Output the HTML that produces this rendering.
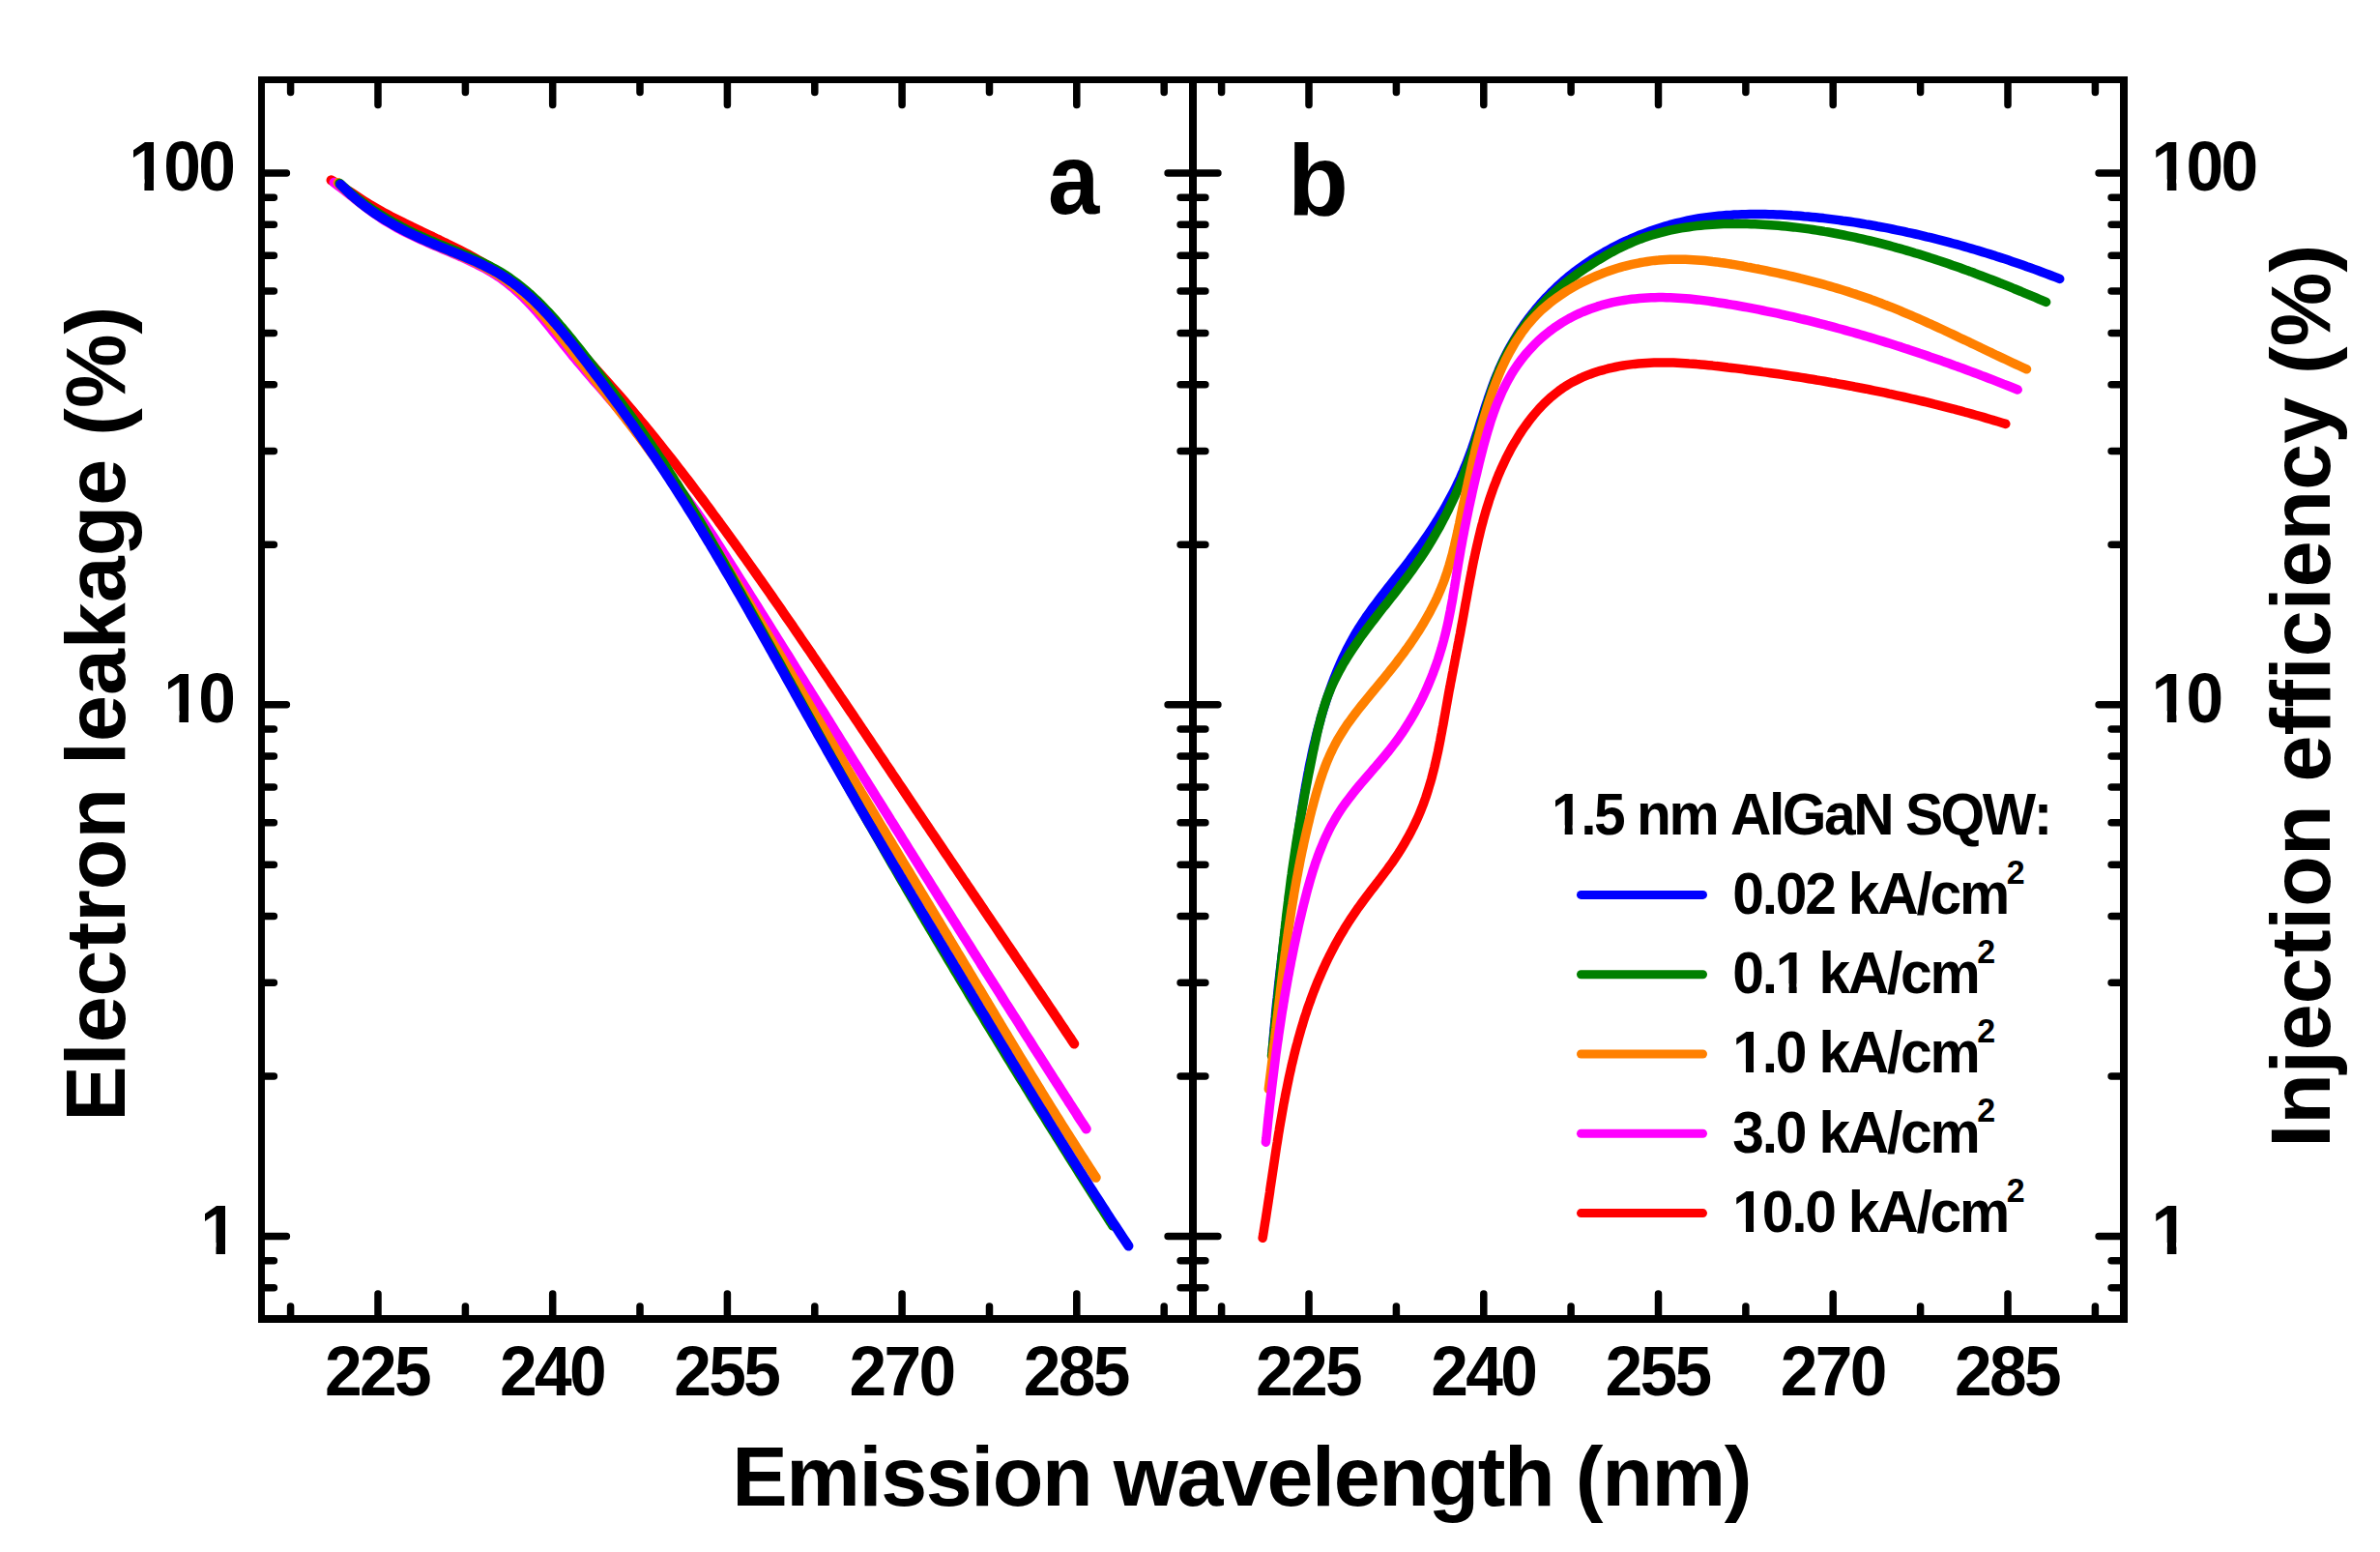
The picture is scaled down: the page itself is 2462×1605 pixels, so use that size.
<!DOCTYPE html>
<html lang="en"><head><meta charset="utf-8"><title>Electron leakage and injection efficiency vs emission wavelength</title>
<style>html,body{margin:0;padding:0;background:#fff}svg{display:block}text{font-family:"Liberation Sans",Arial,Helvetica,sans-serif;font-weight:bold;fill:#000;font-kerning:none;white-space:pre}</style></head><body>
<svg width="2462" height="1605" viewBox="0 0 2462 1605" role="img" aria-label="Electron leakage and injection efficiency versus emission wavelength">
<rect x="0" y="0" width="2462" height="1605" fill="#fff"/>
<g fill="none" stroke-width="10.1" stroke-linecap="round" stroke-linejoin="round">
<path stroke="#ff0000" d="M342.6,186.4 L346.0,188.4 L349.5,190.5 L352.9,192.6 L356.3,194.8 L359.6,196.9 L363.0,199.1 L366.4,201.3 L369.7,203.5 L373.1,205.7 L376.5,207.9 L379.9,210.0 L383.3,212.2 L386.7,214.2 L390.2,216.2 L393.7,218.2 L397.2,220.1 L400.8,222.0 L404.3,223.9 L407.9,225.7 L411.5,227.5 L415.1,229.3 L418.6,231.1 L422.2,232.8 L425.8,234.6 L429.4,236.3 L433.0,238.0 L436.6,239.8 L440.3,241.5 L443.9,243.2 L447.5,244.9 L451.1,246.7 L454.7,248.4 L458.3,250.2 L461.9,251.9 L465.5,253.7 L469.1,255.5 L472.7,257.3 L476.3,259.1 L479.9,261.0 L483.5,262.8 L487.0,264.7 L490.6,266.7 L494.1,268.6 L497.6,270.6 L501.1,272.6 L504.6,274.7 L508.1,276.8 L511.5,278.9 L514.9,281.0 L518.3,283.2 L521.6,285.5 L524.9,287.8 L528.2,290.1 L531.4,292.5 L534.6,294.9 L537.8,297.4 L540.9,299.9 L543.9,302.5 L546.9,305.1 L549.9,307.8 L552.8,310.5 L555.6,313.3 L558.5,316.1 L561.3,319.0 L564.0,321.9 L566.8,324.8 L569.5,327.7 L572.1,330.7 L574.8,333.7 L577.4,336.7 L580.1,339.8 L582.7,342.8 L585.3,345.9 L587.9,349.0 L590.5,352.0 L593.1,355.1 L595.7,358.2 L598.3,361.2 L601.0,364.3 L603.6,367.3 L606.3,370.3 L608.9,373.4 L611.6,376.4 L614.3,379.4 L616.9,382.3 L619.6,385.3 L622.3,388.3 L625.0,391.3 L627.7,394.3 L630.3,397.3 L633.0,400.3 L635.7,403.3 L638.3,406.3 L641.0,409.4 L643.6,412.4 L646.2,415.4 L648.8,418.5 L651.4,421.5 L654.0,424.6 L656.6,427.7 L659.2,430.7 L661.7,433.8 L664.3,436.9 L666.9,440.0 L669.4,443.1 L672.0,446.2 L674.5,449.3 L677.0,452.4 L679.5,455.6 L682.0,458.7 L684.5,461.8 L687.0,465.0 L689.5,468.1 L692.0,471.3 L694.5,474.4 L697.0,477.6 L699.4,480.8 L701.9,484.0 L704.3,487.1 L706.8,490.3 L709.2,493.5 L711.7,496.7 L714.1,499.9 L716.5,503.1 L718.9,506.3 L721.4,509.5 L723.8,512.7 L726.2,515.9 L728.6,519.1 L731.0,522.4 L733.4,525.6 L735.7,528.8 L738.1,532.1 L740.5,535.3 L742.9,538.5 L745.2,541.8 L747.6,545.0 L750.0,548.3 L752.3,551.5 L754.7,554.8 L757.0,558.0 L759.4,561.3 L761.7,564.5 L764.1,567.8 L766.4,571.1 L768.7,574.3 L771.1,577.6 L773.4,580.9 L775.7,584.1 L778.0,587.4 L780.4,590.7 L782.7,594.0 L785.0,597.3 L787.3,600.5 L789.6,603.8 L791.9,607.1 L794.2,610.4 L796.5,613.7 L798.8,617.0 L801.1,620.3 L803.4,623.6 L805.7,626.9 L808.0,630.2 L810.2,633.5 L812.5,636.8 L814.8,640.1 L817.1,643.4 L819.4,646.7 L821.6,650.0 L823.9,653.3 L826.2,656.7 L828.4,660.0 L830.7,663.3 L833.0,666.6 L835.2,669.9 L837.5,673.2 L839.8,676.5 L842.0,679.9 L844.3,683.2 L846.5,686.5 L848.8,689.8 L851.0,693.2 L853.3,696.5 L855.5,699.8 L857.8,703.1 L860.0,706.5 L862.3,709.8 L864.5,713.1 L866.8,716.4 L869.0,719.8 L871.3,723.1 L873.5,726.4 L875.8,729.8 L878.0,733.1 L880.2,736.4 L882.5,739.7 L884.7,743.1 L887.0,746.4 L889.2,749.7 L891.4,753.1 L893.7,756.4 L895.9,759.7 L898.2,763.1 L900.4,766.4 L902.6,769.7 L904.9,773.1 L907.1,776.4 L909.3,779.8 L911.6,783.1 L913.8,786.4 L916.0,789.8 L918.3,793.1 L920.5,796.4 L922.7,799.8 L925.0,803.1 L927.2,806.4 L929.4,809.8 L931.7,813.1 L933.9,816.4 L936.2,819.8 L938.4,823.1 L940.6,826.5 L942.9,829.8 L945.1,833.1 L947.3,836.5 L949.6,839.8 L951.8,843.1 L954.1,846.5 L956.3,849.8 L958.5,853.1 L960.8,856.4 L963.0,859.8 L965.3,863.1 L967.5,866.4 L969.8,869.8 L972.0,873.1 L974.2,876.4 L976.5,879.8 L978.7,883.1 L981.0,886.4 L983.2,889.7 L985.5,893.1 L987.7,896.4 L990.0,899.7 L992.2,903.1 L994.5,906.4 L996.7,909.7 L999.0,913.0 L1001.2,916.4 L1003.5,919.7 L1005.7,923.0 L1008.0,926.3 L1010.2,929.7 L1012.5,933.0 L1014.7,936.3 L1017.0,939.7 L1019.2,943.0 L1021.5,946.3 L1023.7,949.6 L1026.0,953.0 L1028.2,956.3 L1030.5,959.6 L1032.7,962.9 L1035.0,966.3 L1037.2,969.6 L1039.5,972.9 L1041.7,976.2 L1044.0,979.6 L1046.2,982.9 L1048.5,986.2 L1050.7,989.6 L1053.0,992.9 L1055.2,996.2 L1057.5,999.5 L1059.7,1002.9 L1062.0,1006.2 L1064.2,1009.5 L1066.4,1012.8 L1068.7,1016.2 L1070.9,1019.5 L1073.2,1022.8 L1075.4,1026.2 L1077.7,1029.5 L1079.9,1032.8 L1082.2,1036.2 L1084.4,1039.5 L1086.6,1042.8 L1088.9,1046.2 L1091.1,1049.5 L1093.4,1052.8 L1095.6,1056.2 L1097.8,1059.5 L1100.1,1062.8 L1102.3,1066.2 L1104.5,1069.5 L1106.8,1072.8 L1109.0,1076.2 L1111.2,1079.5"/>
<path stroke="#ff00ff" d="M345.6,188.7 L348.8,191.1 L352.0,193.6 L355.2,196.0 L358.4,198.5 L361.6,201.0 L364.8,203.5 L367.9,206.0 L371.1,208.5 L374.3,211.0 L377.5,213.5 L380.7,215.9 L384.0,218.3 L387.2,220.6 L390.5,222.9 L393.8,225.2 L397.2,227.4 L400.6,229.5 L404.0,231.5 L407.4,233.5 L410.9,235.5 L414.4,237.4 L417.9,239.2 L421.5,241.0 L425.1,242.8 L428.7,244.5 L432.3,246.2 L436.0,247.9 L439.6,249.5 L443.3,251.2 L447.0,252.8 L450.7,254.4 L454.5,255.9 L458.2,257.5 L462.0,259.1 L465.7,260.7 L469.4,262.3 L473.2,263.9 L476.9,265.5 L480.6,267.2 L484.3,268.9 L487.9,270.6 L491.6,272.3 L495.2,274.2 L498.7,276.0 L502.3,277.9 L505.7,279.9 L509.2,281.9 L512.5,284.0 L515.9,286.2 L519.1,288.4 L522.4,290.8 L525.5,293.2 L528.6,295.7 L531.6,298.2 L534.6,300.9 L537.5,303.6 L540.4,306.3 L543.2,309.1 L546.0,312.0 L548.8,314.9 L551.5,317.9 L554.2,320.9 L556.9,323.9 L559.5,327.0 L562.1,330.1 L564.7,333.2 L567.3,336.3 L569.8,339.5 L572.4,342.7 L574.9,345.8 L577.5,349.0 L580.0,352.2 L582.5,355.4 L585.1,358.6 L587.6,361.7 L590.2,364.9 L592.7,368.0 L595.3,371.1 L597.9,374.2 L600.5,377.2 L603.1,380.3 L605.7,383.4 L608.3,386.4 L610.9,389.4 L613.5,392.5 L616.2,395.5 L618.8,398.5 L621.4,401.5 L624.0,404.5 L626.6,407.6 L629.2,410.6 L631.8,413.6 L634.3,416.7 L636.9,419.8 L639.5,422.8 L642.0,425.9 L644.5,429.0 L647.0,432.2 L649.5,435.3 L652.0,438.5 L654.4,441.7 L656.9,444.9 L659.3,448.1 L661.7,451.3 L664.2,454.6 L666.6,457.8 L669.0,461.0 L671.4,464.3 L673.8,467.5 L676.2,470.7 L678.7,474.0 L681.1,477.2 L683.5,480.4 L686.0,483.6 L688.4,486.8 L690.9,489.9 L693.3,493.1 L695.8,496.3 L698.2,499.5 L700.7,502.7 L703.1,505.9 L705.5,509.1 L707.9,512.3 L710.3,515.5 L712.7,518.8 L715.1,522.0 L717.4,525.3 L719.8,528.5 L722.1,531.8 L724.4,535.1 L726.6,538.4 L728.9,541.7 L731.1,545.1 L733.4,548.4 L735.6,551.8 L737.8,555.1 L740.0,558.5 L742.1,561.9 L744.3,565.3 L746.5,568.7 L748.6,572.1 L750.8,575.5 L752.9,578.9 L755.1,582.3 L757.2,585.7 L759.4,589.1 L761.5,592.5 L763.7,595.9 L765.8,599.3 L768.0,602.7 L770.1,606.1 L772.3,609.5 L774.4,612.9 L776.5,616.3 L778.7,619.7 L780.8,623.1 L783.0,626.5 L785.1,629.9 L787.2,633.3 L789.4,636.7 L791.5,640.1 L793.6,643.5 L795.8,646.9 L797.9,650.3 L800.0,653.8 L802.2,657.2 L804.3,660.6 L806.4,664.0 L808.6,667.4 L810.7,670.8 L812.8,674.2 L815.0,677.6 L817.1,681.0 L819.2,684.4 L821.4,687.9 L823.5,691.3 L825.6,694.7 L827.7,698.1 L829.9,701.5 L832.0,704.9 L834.1,708.3 L836.3,711.7 L838.4,715.1 L840.5,718.6 L842.7,722.0 L844.8,725.4 L846.9,728.8 L849.0,732.2 L851.2,735.6 L853.3,739.0 L855.4,742.4 L857.6,745.8 L859.7,749.3 L861.8,752.7 L863.9,756.1 L866.1,759.5 L868.2,762.9 L870.3,766.3 L872.5,769.7 L874.6,773.1 L876.7,776.5 L878.8,780.0 L881.0,783.4 L883.1,786.8 L885.2,790.2 L887.4,793.6 L889.5,797.0 L891.6,800.4 L893.7,803.8 L895.9,807.2 L898.0,810.6 L900.1,814.1 L902.3,817.5 L904.4,820.9 L906.5,824.3 L908.7,827.7 L910.8,831.1 L912.9,834.5 L915.0,837.9 L917.2,841.3 L919.3,844.7 L921.4,848.2 L923.6,851.6 L925.7,855.0 L927.8,858.4 L930.0,861.8 L932.1,865.2 L934.2,868.6 L936.4,872.0 L938.5,875.4 L940.6,878.8 L942.8,882.2 L944.9,885.6 L947.0,889.1 L949.2,892.5 L951.3,895.9 L953.4,899.3 L955.6,902.7 L957.7,906.1 L959.9,909.5 L962.0,912.9 L964.1,916.3 L966.3,919.7 L968.4,923.1 L970.5,926.5 L972.7,929.9 L974.8,933.3 L977.0,936.7 L979.1,940.1 L981.2,943.5 L983.4,947.0 L985.5,950.4 L987.7,953.8 L989.8,957.2 L991.9,960.6 L994.1,964.0 L996.2,967.4 L998.4,970.8 L1000.5,974.2 L1002.7,977.6 L1004.8,981.0 L1006.9,984.4 L1009.1,987.8 L1011.2,991.2 L1013.4,994.6 L1015.5,998.0 L1017.7,1001.4 L1019.8,1004.8 L1022.0,1008.2 L1024.1,1011.6 L1026.3,1015.0 L1028.4,1018.4 L1030.6,1021.8 L1032.7,1025.2 L1034.9,1028.6 L1037.0,1032.0 L1039.2,1035.4 L1041.3,1038.8 L1043.5,1042.1 L1045.6,1045.5 L1047.8,1048.9 L1050.0,1052.3 L1052.1,1055.7 L1054.3,1059.1 L1056.4,1062.5 L1058.6,1065.9 L1060.7,1069.3 L1062.9,1072.7 L1065.1,1076.1 L1067.2,1079.5 L1069.4,1082.9 L1071.5,1086.3 L1073.7,1089.6 L1075.9,1093.0 L1078.0,1096.4 L1080.2,1099.8 L1082.4,1103.2 L1084.5,1106.6 L1086.7,1110.0 L1088.9,1113.4 L1091.0,1116.8 L1093.2,1120.1 L1095.4,1123.5 L1097.5,1126.9 L1099.7,1130.3 L1101.9,1133.7 L1104.1,1137.1 L1106.2,1140.5 L1108.4,1143.8 L1110.6,1147.2 L1112.8,1150.6 L1114.9,1154.0 L1117.1,1157.4 L1119.3,1160.7 L1121.5,1164.1 L1123.7,1167.5"/>
<path stroke="#ff8000" d="M349.6,189.0 L352.5,191.9 L355.5,194.7 L358.5,197.5 L361.6,200.2 L364.7,202.9 L367.8,205.5 L370.9,208.0 L374.1,210.5 L377.3,212.9 L380.5,215.2 L383.8,217.6 L387.1,219.8 L390.4,222.0 L393.8,224.2 L397.2,226.3 L400.6,228.3 L404.0,230.4 L407.5,232.3 L411.0,234.3 L414.5,236.2 L418.0,238.1 L421.6,239.9 L425.1,241.7 L428.7,243.4 L432.4,245.2 L436.0,246.9 L439.7,248.6 L443.4,250.2 L447.1,251.9 L450.8,253.5 L454.5,255.1 L458.3,256.7 L462.0,258.3 L465.8,259.8 L469.5,261.4 L473.2,263.0 L477.0,264.6 L480.7,266.3 L484.4,267.9 L488.1,269.6 L491.7,271.4 L495.3,273.1 L498.9,274.9 L502.5,276.8 L506.0,278.7 L509.5,280.7 L512.9,282.7 L516.3,284.8 L519.6,287.0 L522.8,289.2 L526.0,291.6 L529.2,294.0 L532.3,296.5 L535.3,299.0 L538.3,301.6 L541.2,304.3 L544.1,307.0 L547.0,309.8 L549.8,312.6 L552.6,315.5 L555.3,318.4 L558.0,321.3 L560.7,324.3 L563.4,327.4 L566.0,330.4 L568.6,333.5 L571.2,336.7 L573.8,339.8 L576.3,342.9 L578.9,346.1 L581.4,349.3 L583.9,352.5 L586.4,355.7 L588.9,358.9 L591.4,362.1 L593.9,365.3 L596.4,368.5 L599.0,371.7 L601.5,374.9 L604.0,378.0 L606.5,381.2 L609.0,384.4 L611.5,387.5 L614.0,390.7 L616.5,393.9 L619.0,397.0 L621.5,400.2 L624.0,403.3 L626.5,406.5 L629.0,409.6 L631.5,412.8 L634.0,415.9 L636.5,419.1 L639.0,422.3 L641.4,425.4 L643.9,428.6 L646.4,431.7 L648.8,434.9 L651.3,438.1 L653.7,441.3 L656.2,444.4 L658.6,447.6 L661.0,450.8 L663.4,454.0 L665.8,457.2 L668.2,460.4 L670.6,463.7 L673.0,466.9 L675.3,470.1 L677.7,473.4 L680.0,476.6 L682.4,479.9 L684.7,483.2 L687.0,486.4 L689.3,489.7 L691.6,493.0 L693.9,496.3 L696.2,499.6 L698.4,502.9 L700.7,506.3 L702.9,509.6 L705.2,512.9 L707.4,516.3 L709.6,519.6 L711.9,523.0 L714.1,526.3 L716.3,529.7 L718.5,533.1 L720.7,536.5 L722.8,539.8 L725.0,543.2 L727.2,546.6 L729.4,550.0 L731.5,553.4 L733.7,556.8 L735.8,560.2 L737.9,563.7 L740.1,567.1 L742.2,570.5 L744.3,573.9 L746.5,577.4 L748.6,580.8 L750.7,584.2 L752.8,587.7 L754.9,591.1 L757.0,594.5 L759.1,598.0 L761.2,601.4 L763.3,604.9 L765.4,608.3 L767.4,611.8 L769.5,615.2 L771.6,618.7 L773.7,622.1 L775.8,625.6 L777.8,629.0 L779.9,632.5 L782.0,635.9 L784.0,639.4 L786.1,642.8 L788.2,646.3 L790.2,649.8 L792.3,653.2 L794.4,656.7 L796.4,660.1 L798.5,663.6 L800.5,667.0 L802.6,670.5 L804.6,674.0 L806.7,677.4 L808.8,680.9 L810.8,684.3 L812.9,687.8 L814.9,691.3 L817.0,694.7 L819.0,698.2 L821.0,701.7 L823.1,705.1 L825.1,708.6 L827.2,712.0 L829.2,715.5 L831.3,719.0 L833.3,722.4 L835.4,725.9 L837.4,729.3 L839.5,732.8 L841.5,736.3 L843.5,739.7 L845.6,743.2 L847.6,746.6 L849.7,750.1 L851.7,753.6 L853.8,757.0 L855.8,760.5 L857.9,764.0 L859.9,767.4 L862.0,770.9 L864.0,774.3 L866.1,777.8 L868.1,781.2 L870.2,784.7 L872.2,788.2 L874.3,791.6 L876.3,795.1 L878.4,798.5 L880.4,802.0 L882.5,805.4 L884.6,808.9 L886.6,812.4 L888.7,815.8 L890.7,819.3 L892.8,822.7 L894.9,826.2 L896.9,829.6 L899.0,833.1 L901.1,836.5 L903.1,840.0 L905.2,843.4 L907.3,846.9 L909.3,850.3 L911.4,853.8 L913.5,857.2 L915.6,860.7 L917.6,864.1 L919.7,867.6 L921.8,871.0 L923.9,874.5 L925.9,877.9 L928.0,881.4 L930.1,884.8 L932.2,888.3 L934.2,891.7 L936.3,895.1 L938.4,898.6 L940.5,902.0 L942.6,905.5 L944.6,908.9 L946.7,912.4 L948.8,915.8 L950.9,919.3 L952.9,922.7 L955.0,926.2 L957.1,929.6 L959.2,933.1 L961.3,936.5 L963.3,940.0 L965.4,943.4 L967.5,946.9 L969.6,950.3 L971.7,953.7 L973.7,957.2 L975.8,960.6 L977.9,964.1 L980.0,967.5 L982.0,971.0 L984.1,974.4 L986.2,977.9 L988.3,981.3 L990.3,984.8 L992.4,988.2 L994.5,991.7 L996.5,995.1 L998.6,998.6 L1000.7,1002.0 L1002.8,1005.5 L1004.8,1008.9 L1006.9,1012.4 L1009.0,1015.8 L1011.0,1019.3 L1013.1,1022.7 L1015.2,1026.2 L1017.2,1029.6 L1019.3,1033.1 L1021.4,1036.5 L1023.4,1040.0 L1025.5,1043.4 L1027.6,1046.9 L1029.6,1050.3 L1031.7,1053.8 L1033.8,1057.2 L1035.8,1060.7 L1037.9,1064.1 L1040.0,1067.6 L1042.1,1071.0 L1044.1,1074.5 L1046.2,1077.9 L1048.3,1081.4 L1050.4,1084.8 L1052.5,1088.3 L1054.5,1091.7 L1056.6,1095.1 L1058.7,1098.6 L1060.8,1102.0 L1062.9,1105.4 L1065.0,1108.9 L1067.1,1112.3 L1069.2,1115.7 L1071.3,1119.2 L1073.4,1122.6 L1075.5,1126.0 L1077.6,1129.5 L1079.7,1132.9 L1081.8,1136.3 L1083.9,1139.7 L1086.0,1143.1 L1088.2,1146.6 L1090.3,1150.0 L1092.4,1153.4 L1094.6,1156.8 L1096.7,1160.2 L1098.8,1163.6 L1101.0,1167.0 L1103.1,1170.4 L1105.3,1173.8 L1107.4,1177.2 L1109.6,1180.6 L1111.8,1184.0 L1113.9,1187.4 L1116.1,1190.8 L1118.3,1194.2 L1120.5,1197.5 L1122.6,1200.9 L1124.8,1204.3 L1127.0,1207.7 L1129.2,1211.0 L1131.4,1214.4 L1133.7,1217.8"/>
<path stroke="#008000" d="M351.3,189.7 L354.3,192.5 L357.4,195.3 L360.4,197.9 L363.5,200.6 L366.7,203.1 L369.8,205.6 L373.0,208.1 L376.2,210.5 L379.5,212.8 L382.7,215.1 L386.0,217.4 L389.4,219.6 L392.7,221.7 L396.1,223.8 L399.5,225.9 L403.0,227.9 L406.4,229.9 L409.9,231.8 L413.4,233.7 L416.9,235.6 L420.5,237.4 L424.1,239.2 L427.7,241.0 L431.3,242.7 L434.9,244.4 L438.6,246.0 L442.3,247.7 L446.0,249.3 L449.7,250.8 L453.4,252.4 L457.2,253.9 L460.9,255.5 L464.7,257.0 L468.5,258.5 L472.2,260.0 L476.0,261.6 L479.7,263.1 L483.5,264.7 L487.2,266.3 L490.9,267.9 L494.5,269.5 L498.2,271.2 L501.8,273.0 L505.4,274.7 L508.9,276.6 L512.4,278.5 L515.8,280.4 L519.2,282.4 L522.6,284.5 L525.9,286.7 L529.1,289.0 L532.3,291.3 L535.5,293.6 L538.6,296.1 L541.7,298.6 L544.7,301.1 L547.7,303.7 L550.6,306.4 L553.5,309.1 L556.4,311.8 L559.2,314.6 L562.0,317.5 L564.8,320.4 L567.5,323.3 L570.2,326.2 L572.9,329.2 L575.6,332.2 L578.2,335.3 L580.9,338.3 L583.5,341.4 L586.1,344.5 L588.6,347.6 L591.2,350.8 L593.7,353.9 L596.3,357.1 L598.8,360.2 L601.3,363.4 L603.8,366.6 L606.3,369.8 L608.8,372.9 L611.3,376.1 L613.8,379.3 L616.3,382.5 L618.8,385.7 L621.2,388.8 L623.7,392.0 L626.1,395.2 L628.6,398.4 L631.0,401.6 L633.5,404.8 L635.9,408.0 L638.3,411.2 L640.7,414.4 L643.1,417.6 L645.5,420.9 L647.9,424.1 L650.3,427.3 L652.6,430.5 L655.0,433.8 L657.3,437.0 L659.7,440.3 L662.0,443.5 L664.3,446.8 L666.6,450.1 L668.9,453.4 L671.2,456.6 L673.5,459.9 L675.7,463.2 L678.0,466.5 L680.2,469.9 L682.4,473.2 L684.7,476.5 L686.9,479.8 L689.1,483.2 L691.2,486.5 L693.4,489.9 L695.6,493.3 L697.7,496.7 L699.9,500.0 L702.0,503.4 L704.1,506.8 L706.3,510.2 L708.4,513.6 L710.5,517.0 L712.6,520.5 L714.6,523.9 L716.7,527.3 L718.8,530.8 L720.9,534.2 L722.9,537.6 L725.0,541.1 L727.0,544.5 L729.0,548.0 L731.1,551.5 L733.1,554.9 L735.1,558.4 L737.1,561.9 L739.1,565.4 L741.1,568.8 L743.1,572.3 L745.1,575.8 L747.1,579.3 L749.1,582.8 L751.0,586.3 L753.0,589.8 L755.0,593.3 L757.0,596.8 L758.9,600.3 L760.9,603.8 L762.8,607.3 L764.8,610.8 L766.8,614.3 L768.7,617.8 L770.7,621.3 L772.6,624.8 L774.6,628.3 L776.5,631.8 L778.5,635.4 L780.4,638.9 L782.4,642.4 L784.3,645.9 L786.3,649.4 L788.2,652.9 L790.1,656.4 L792.1,659.9 L794.0,663.4 L796.0,667.0 L797.9,670.5 L799.8,674.0 L801.8,677.5 L803.7,681.0 L805.7,684.5 L807.6,688.0 L809.5,691.5 L811.5,695.1 L813.4,698.6 L815.3,702.1 L817.3,705.6 L819.2,709.1 L821.2,712.6 L823.1,716.1 L825.0,719.6 L827.0,723.2 L828.9,726.7 L830.8,730.2 L832.8,733.7 L834.7,737.2 L836.7,740.7 L838.6,744.2 L840.6,747.7 L842.5,751.2 L844.4,754.7 L846.4,758.2 L848.3,761.8 L850.3,765.3 L852.2,768.8 L854.2,772.3 L856.1,775.8 L858.1,779.3 L860.0,782.8 L862.0,786.3 L864.0,789.8 L865.9,793.3 L867.9,796.8 L869.8,800.3 L871.8,803.8 L873.8,807.3 L875.7,810.8 L877.7,814.3 L879.7,817.8 L881.7,821.2 L883.6,824.7 L885.6,828.2 L887.6,831.7 L889.6,835.2 L891.5,838.7 L893.5,842.2 L895.5,845.7 L897.5,849.2 L899.5,852.6 L901.5,856.1 L903.5,859.6 L905.5,863.1 L907.5,866.6 L909.5,870.0 L911.5,873.5 L913.5,877.0 L915.5,880.5 L917.5,884.0 L919.5,887.4 L921.5,890.9 L923.5,894.4 L925.5,897.8 L927.5,901.3 L929.5,904.8 L931.5,908.3 L933.5,911.7 L935.6,915.2 L937.6,918.7 L939.6,922.1 L941.6,925.6 L943.7,929.1 L945.7,932.5 L947.7,936.0 L949.7,939.4 L951.8,942.9 L953.8,946.4 L955.8,949.8 L957.9,953.3 L959.9,956.7 L961.9,960.2 L964.0,963.6 L966.0,967.1 L968.1,970.6 L970.1,974.0 L972.2,977.5 L974.2,980.9 L976.3,984.4 L978.3,987.8 L980.4,991.3 L982.4,994.7 L984.5,998.1 L986.5,1001.6 L988.6,1005.0 L990.7,1008.5 L992.7,1011.9 L994.8,1015.4 L996.8,1018.8 L998.9,1022.2 L1001.0,1025.7 L1003.0,1029.1 L1005.1,1032.6 L1007.2,1036.0 L1009.3,1039.4 L1011.3,1042.9 L1013.4,1046.3 L1015.5,1049.7 L1017.6,1053.2 L1019.6,1056.6 L1021.7,1060.0 L1023.8,1063.5 L1025.9,1066.9 L1028.0,1070.3 L1030.1,1073.7 L1032.2,1077.2 L1034.3,1080.6 L1036.3,1084.0 L1038.4,1087.4 L1040.5,1090.9 L1042.6,1094.3 L1044.7,1097.7 L1046.8,1101.1 L1048.9,1104.5 L1051.0,1108.0 L1053.1,1111.4 L1055.2,1114.8 L1057.3,1118.2 L1059.5,1121.6 L1061.6,1125.0 L1063.7,1128.4 L1065.8,1131.9 L1067.9,1135.3 L1070.0,1138.7 L1072.1,1142.1 L1074.2,1145.5 L1076.4,1148.9 L1078.5,1152.3 L1080.6,1155.7 L1082.7,1159.1 L1084.8,1162.5 L1087.0,1165.9 L1089.1,1169.3 L1091.2,1172.7 L1093.3,1176.1 L1095.5,1179.5 L1097.6,1182.9 L1099.7,1186.3 L1101.9,1189.7 L1104.0,1193.1 L1106.1,1196.5 L1108.3,1199.9 L1110.4,1203.3 L1112.6,1206.7 L1114.7,1210.1 L1116.8,1213.5 L1119.0,1216.9 L1121.1,1220.3 L1123.3,1223.7 L1125.4,1227.0 L1127.6,1230.4 L1129.7,1233.8 L1131.9,1237.2 L1134.0,1240.6 L1136.2,1244.0 L1138.3,1247.4 L1140.5,1250.7 L1142.6,1254.1 L1144.8,1257.5 L1147.0,1260.9 L1149.1,1264.3 L1151.3,1267.6"/>
<path stroke="#0000ff" d="M352.2,190.7 L355.1,193.7 L358.1,196.6 L361.0,199.4 L364.0,202.2 L367.1,204.8 L370.2,207.5 L373.3,210.0 L376.5,212.5 L379.7,214.9 L382.9,217.2 L386.2,219.5 L389.5,221.8 L392.9,224.0 L396.2,226.1 L399.6,228.2 L403.1,230.2 L406.5,232.2 L410.0,234.1 L413.5,236.0 L417.1,237.9 L420.6,239.7 L424.2,241.4 L427.9,243.2 L431.5,244.9 L435.2,246.6 L438.8,248.2 L442.5,249.8 L446.3,251.4 L450.0,253.0 L453.8,254.6 L457.5,256.1 L461.3,257.6 L465.1,259.2 L468.9,260.7 L472.6,262.3 L476.4,263.8 L480.1,265.4 L483.9,267.0 L487.6,268.6 L491.3,270.2 L495.0,271.9 L498.6,273.6 L502.2,275.4 L505.8,277.2 L509.3,279.1 L512.8,281.0 L516.2,283.0 L519.6,285.1 L522.9,287.3 L526.2,289.5 L529.5,291.8 L532.6,294.1 L535.8,296.5 L538.8,299.0 L541.9,301.5 L544.9,304.1 L547.8,306.8 L550.8,309.5 L553.6,312.3 L556.5,315.1 L559.3,317.9 L562.0,320.8 L564.8,323.7 L567.5,326.7 L570.2,329.7 L572.8,332.7 L575.5,335.7 L578.1,338.8 L580.7,341.9 L583.2,345.1 L585.8,348.2 L588.3,351.4 L590.9,354.5 L593.4,357.7 L595.9,360.9 L598.4,364.1 L600.9,367.3 L603.3,370.5 L605.8,373.7 L608.3,376.9 L610.7,380.1 L613.2,383.4 L615.6,386.6 L618.1,389.8 L620.5,393.0 L622.9,396.3 L625.3,399.5 L627.7,402.7 L630.1,406.0 L632.5,409.2 L634.9,412.4 L637.3,415.7 L639.7,418.9 L642.0,422.2 L644.4,425.5 L646.7,428.7 L649.1,432.0 L651.4,435.3 L653.8,438.5 L656.1,441.8 L658.4,445.1 L660.7,448.4 L663.0,451.7 L665.3,455.0 L667.5,458.3 L669.8,461.6 L672.1,464.9 L674.3,468.3 L676.6,471.6 L678.8,474.9 L681.1,478.3 L683.3,481.6 L685.5,484.9 L687.7,488.3 L689.9,491.7 L692.1,495.0 L694.3,498.4 L696.5,501.8 L698.6,505.1 L700.8,508.5 L702.9,511.9 L705.1,515.3 L707.2,518.7 L709.4,522.1 L711.5,525.5 L713.6,528.9 L715.8,532.3 L717.9,535.7 L720.0,539.2 L722.1,542.6 L724.2,546.0 L726.3,549.4 L728.3,552.9 L730.4,556.3 L732.5,559.8 L734.6,563.2 L736.6,566.7 L738.7,570.1 L740.7,573.6 L742.8,577.0 L744.8,580.5 L746.9,583.9 L748.9,587.4 L750.9,590.9 L753.0,594.4 L755.0,597.8 L757.0,601.3 L759.0,604.8 L761.0,608.3 L763.1,611.8 L765.1,615.2 L767.1,618.7 L769.1,622.2 L771.1,625.7 L773.1,629.2 L775.0,632.7 L777.0,636.2 L779.0,639.7 L781.0,643.2 L783.0,646.7 L785.0,650.2 L786.9,653.7 L788.9,657.2 L790.9,660.7 L792.9,664.2 L794.8,667.7 L796.8,671.3 L798.8,674.8 L800.7,678.3 L802.7,681.8 L804.7,685.3 L806.6,688.8 L808.6,692.3 L810.6,695.9 L812.5,699.4 L814.5,702.9 L816.5,706.4 L818.4,709.9 L820.4,713.4 L822.3,717.0 L824.3,720.5 L826.3,724.0 L828.2,727.5 L830.2,731.0 L832.2,734.5 L834.1,738.0 L836.1,741.6 L838.1,745.1 L840.0,748.6 L842.0,752.1 L844.0,755.6 L845.9,759.1 L847.9,762.6 L849.9,766.1 L851.9,769.6 L853.9,773.1 L855.8,776.6 L857.8,780.1 L859.8,783.6 L861.8,787.1 L863.8,790.6 L865.8,794.1 L867.8,797.6 L869.8,801.1 L871.8,804.6 L873.8,808.1 L875.8,811.6 L877.8,815.0 L879.8,818.5 L881.8,822.0 L883.9,825.5 L885.9,829.0 L887.9,832.4 L889.9,835.9 L892.0,839.4 L894.0,842.8 L896.0,846.3 L898.1,849.8 L900.1,853.2 L902.2,856.7 L904.2,860.2 L906.2,863.6 L908.3,867.1 L910.3,870.6 L912.4,874.0 L914.4,877.5 L916.5,880.9 L918.6,884.4 L920.6,887.8 L922.7,891.3 L924.7,894.7 L926.8,898.2 L928.9,901.6 L930.9,905.1 L933.0,908.5 L935.1,912.0 L937.1,915.4 L939.2,918.9 L941.3,922.3 L943.3,925.8 L945.4,929.2 L947.5,932.6 L949.6,936.1 L951.6,939.5 L953.7,943.0 L955.8,946.4 L957.9,949.9 L959.9,953.3 L962.0,956.7 L964.1,960.2 L966.2,963.6 L968.2,967.1 L970.3,970.5 L972.4,974.0 L974.5,977.4 L976.6,980.8 L978.6,984.3 L980.7,987.7 L982.8,991.2 L984.9,994.6 L986.9,998.1 L989.0,1001.5 L991.1,1004.9 L993.2,1008.4 L995.3,1011.8 L997.3,1015.3 L999.4,1018.7 L1001.5,1022.2 L1003.6,1025.6 L1005.6,1029.1 L1007.7,1032.5 L1009.8,1036.0 L1011.9,1039.4 L1013.9,1042.9 L1016.0,1046.3 L1018.1,1049.7 L1020.2,1053.2 L1022.2,1056.6 L1024.3,1060.1 L1026.4,1063.5 L1028.5,1067.0 L1030.5,1070.4 L1032.6,1073.9 L1034.7,1077.3 L1036.8,1080.8 L1038.9,1084.2 L1041.0,1087.6 L1043.0,1091.1 L1045.1,1094.5 L1047.2,1098.0 L1049.3,1101.4 L1051.4,1104.9 L1053.5,1108.3 L1055.6,1111.7 L1057.7,1115.2 L1059.8,1118.6 L1061.8,1122.0 L1063.9,1125.5 L1066.0,1128.9 L1068.1,1132.3 L1070.2,1135.8 L1072.3,1139.2 L1074.4,1142.6 L1076.6,1146.1 L1078.7,1149.5 L1080.8,1152.9 L1082.9,1156.4 L1085.0,1159.8 L1087.1,1163.2 L1089.2,1166.6 L1091.4,1170.0 L1093.5,1173.5 L1095.6,1176.9 L1097.7,1180.3 L1099.9,1183.7 L1102.0,1187.1 L1104.1,1190.5 L1106.3,1193.9 L1108.4,1197.3 L1110.6,1200.7 L1112.7,1204.1 L1114.8,1207.5 L1117.0,1210.9 L1119.2,1214.3 L1121.3,1217.7 L1123.5,1221.1 L1125.6,1224.5 L1127.8,1227.9 L1130.0,1231.3 L1132.1,1234.7 L1134.3,1238.1 L1136.5,1241.4 L1138.7,1244.8 L1140.9,1248.2 L1143.1,1251.6 L1145.2,1254.9 L1147.4,1258.3 L1149.6,1261.7 L1151.8,1265.0 L1154.1,1268.4 L1156.3,1271.8 L1158.5,1275.1 L1160.7,1278.5 L1162.9,1281.8 L1165.2,1285.2 L1167.4,1288.5"/>
</g>
<g fill="none" stroke-width="9.5" stroke-linecap="round" stroke-linejoin="round">
<path stroke="#0000ff" d="M1316.1,1088.1 L1316.5,1084.0 L1316.8,1080.0 L1317.1,1076.0 L1317.4,1071.9 L1317.8,1067.9 L1318.1,1063.9 L1318.5,1059.9 L1318.9,1055.9 L1319.3,1051.9 L1319.6,1047.8 L1320.0,1043.8 L1320.4,1039.8 L1320.8,1035.8 L1321.3,1031.8 L1321.7,1027.9 L1322.1,1023.9 L1322.5,1019.9 L1323.0,1015.9 L1323.4,1011.9 L1323.9,1007.9 L1324.3,1003.9 L1324.8,1000.0 L1325.3,996.0 L1325.7,992.0 L1326.2,988.0 L1326.7,984.1 L1327.2,980.1 L1327.7,976.1 L1328.2,972.2 L1328.7,968.2 L1329.2,964.2 L1329.7,960.2 L1330.2,956.3 L1330.7,952.3 L1331.2,948.3 L1331.7,944.4 L1332.3,940.4 L1332.8,936.4 L1333.3,932.5 L1333.8,928.5 L1334.4,924.5 L1334.9,920.5 L1335.4,916.6 L1336.0,912.6 L1336.5,908.6 L1337.1,904.6 L1337.6,900.6 L1338.2,896.7 L1338.7,892.7 L1339.2,888.7 L1339.8,884.7 L1340.3,880.7 L1340.9,876.7 L1341.4,872.7 L1342.0,868.7 L1342.6,864.7 L1343.1,860.8 L1343.7,856.8 L1344.3,852.8 L1344.9,848.8 L1345.5,844.8 L1346.1,840.8 L1346.7,836.8 L1347.3,832.8 L1348.0,828.8 L1348.6,824.8 L1349.3,820.9 L1350.0,816.9 L1350.6,812.9 L1351.4,808.9 L1352.1,805.0 L1352.8,801.0 L1353.6,797.1 L1354.3,793.1 L1355.1,789.2 L1356.0,785.2 L1356.8,781.3 L1357.6,777.4 L1358.5,773.4 L1359.4,769.5 L1360.4,765.6 L1361.3,761.7 L1362.3,757.8 L1363.3,753.9 L1364.3,750.1 L1365.4,746.2 L1366.4,742.3 L1367.6,738.5 L1368.7,734.6 L1369.9,730.8 L1371.1,727.0 L1372.3,723.2 L1373.6,719.4 L1374.9,715.6 L1376.2,711.8 L1377.6,708.0 L1379.0,704.3 L1380.4,700.5 L1381.9,696.8 L1383.4,693.1 L1385.0,689.4 L1386.6,685.8 L1388.2,682.1 L1389.9,678.5 L1391.7,674.9 L1393.4,671.3 L1395.3,667.8 L1397.2,664.2 L1399.1,660.7 L1401.0,657.3 L1403.1,653.8 L1405.1,650.4 L1407.3,647.0 L1409.5,643.6 L1411.7,640.3 L1413.9,637.0 L1416.3,633.7 L1418.6,630.4 L1421.0,627.2 L1423.4,624.0 L1425.8,620.7 L1428.2,617.5 L1430.7,614.3 L1433.2,611.2 L1435.7,608.0 L1438.2,604.8 L1440.7,601.6 L1443.2,598.5 L1445.7,595.3 L1448.3,592.1 L1450.8,588.9 L1453.2,585.8 L1455.7,582.6 L1458.2,579.4 L1460.6,576.1 L1463.0,572.9 L1465.4,569.7 L1467.8,566.4 L1470.1,563.1 L1472.4,559.8 L1474.7,556.5 L1477.0,553.2 L1479.2,549.9 L1481.4,546.5 L1483.6,543.2 L1485.7,539.8 L1487.8,536.4 L1489.9,533.0 L1492.0,529.6 L1494.0,526.1 L1496.0,522.6 L1497.9,519.1 L1499.8,515.6 L1501.7,512.1 L1503.5,508.6 L1505.3,505.0 L1507.1,501.4 L1508.8,497.8 L1510.5,494.2 L1512.1,490.5 L1513.7,486.8 L1515.2,483.1 L1516.8,479.4 L1518.2,475.7 L1519.6,471.9 L1521.0,468.1 L1522.4,464.3 L1523.7,460.5 L1525.0,456.7 L1526.3,452.9 L1527.5,449.0 L1528.8,445.2 L1530.0,441.3 L1531.2,437.4 L1532.4,433.6 L1533.7,429.7 L1534.9,425.9 L1536.1,422.0 L1537.4,418.1 L1538.7,414.3 L1539.9,410.5 L1541.3,406.6 L1542.6,402.8 L1544.0,399.0 L1545.4,395.3 L1546.8,391.5 L1548.3,387.8 L1549.9,384.1 L1551.4,380.4 L1553.1,376.7 L1554.8,373.1 L1556.5,369.5 L1558.3,365.9 L1560.2,362.3 L1562.1,358.8 L1564.1,355.3 L1566.1,351.9 L1568.2,348.5 L1570.3,345.1 L1572.4,341.7 L1574.7,338.4 L1576.9,335.1 L1579.3,331.9 L1581.7,328.7 L1584.1,325.5 L1586.6,322.4 L1589.1,319.3 L1591.7,316.2 L1594.3,313.2 L1597.0,310.3 L1599.7,307.3 L1602.5,304.5 L1605.3,301.6 L1608.2,298.8 L1611.1,296.1 L1614.0,293.4 L1617.0,290.7 L1620.1,288.1 L1623.2,285.5 L1626.4,283.0 L1629.5,280.5 L1632.8,278.1 L1636.0,275.8 L1639.4,273.4 L1642.7,271.2 L1646.1,268.9 L1649.5,266.8 L1653.0,264.6 L1656.5,262.6 L1660.0,260.5 L1663.5,258.6 L1667.1,256.6 L1670.7,254.8 L1674.3,252.9 L1677.9,251.1 L1681.6,249.4 L1685.3,247.8 L1689.0,246.1 L1692.7,244.6 L1696.5,243.0 L1700.2,241.6 L1704.0,240.2 L1707.8,238.8 L1711.6,237.5 L1715.4,236.2 L1719.2,235.0 L1723.0,233.8 L1726.9,232.7 L1730.8,231.7 L1734.6,230.7 L1738.5,229.8 L1742.4,228.9 L1746.3,228.0 L1750.2,227.3 L1754.2,226.5 L1758.1,225.8 L1762.1,225.2 L1766.0,224.7 L1770.0,224.2 L1774.0,223.7 L1777.9,223.3 L1781.9,222.9 L1785.9,222.6 L1789.9,222.4 L1793.9,222.1 L1797.9,221.9 L1801.9,221.8 L1805.9,221.7 L1810.0,221.6 L1814.0,221.6 L1818.0,221.6 L1822.0,221.6 L1826.0,221.6 L1830.0,221.7 L1834.0,221.8 L1838.1,221.9 L1842.1,222.1 L1846.1,222.3 L1850.1,222.5 L1854.1,222.8 L1858.1,223.0 L1862.2,223.3 L1866.2,223.7 L1870.2,224.0 L1874.2,224.4 L1878.2,224.8 L1882.2,225.2 L1886.2,225.6 L1890.2,226.1 L1894.2,226.6 L1898.2,227.1 L1902.2,227.6 L1906.2,228.2 L1910.2,228.7 L1914.1,229.3 L1918.1,229.9 L1922.1,230.5 L1926.1,231.2 L1930.0,231.9 L1934.0,232.5 L1938.0,233.2 L1941.9,234.0 L1945.9,234.7 L1949.8,235.4 L1953.8,236.2 L1957.7,237.0 L1961.6,237.8 L1965.6,238.6 L1969.5,239.4 L1973.4,240.3 L1977.3,241.1 L1981.3,242.0 L1985.2,242.9 L1989.1,243.8 L1993.0,244.8 L1996.9,245.7 L2000.8,246.7 L2004.6,247.6 L2008.5,248.6 L2012.4,249.6 L2016.3,250.6 L2020.2,251.7 L2024.0,252.7 L2027.9,253.8 L2031.7,254.9 L2035.6,256.0 L2039.4,257.1 L2043.3,258.2 L2047.1,259.4 L2051.0,260.6 L2054.8,261.7 L2058.6,262.9 L2062.5,264.1 L2066.3,265.4 L2070.1,266.6 L2073.9,267.8 L2077.7,269.1 L2081.5,270.4 L2085.4,271.7 L2089.2,273.0 L2092.9,274.3 L2096.7,275.7 L2100.5,277.0 L2104.3,278.4 L2108.1,279.8 L2111.9,281.2 L2115.6,282.6 L2119.4,284.0 L2123.2,285.5 L2127.0,286.9 L2130.7,288.4"/>
<path stroke="#008000" d="M1315.5,1092.0 L1316.0,1088.0 L1316.4,1084.0 L1316.8,1080.0 L1317.3,1076.0 L1317.7,1072.0 L1318.1,1068.0 L1318.5,1064.0 L1318.9,1060.0 L1319.3,1056.0 L1319.7,1052.0 L1320.1,1048.0 L1320.5,1044.0 L1320.9,1040.0 L1321.3,1036.0 L1321.8,1032.0 L1322.2,1028.0 L1322.6,1024.0 L1323.0,1020.0 L1323.4,1016.0 L1323.8,1012.0 L1324.2,1008.0 L1324.6,1004.0 L1325.0,1000.0 L1325.4,996.0 L1325.8,992.0 L1326.2,988.0 L1326.7,984.0 L1327.1,980.0 L1327.5,976.0 L1327.9,972.0 L1328.4,968.0 L1328.8,964.0 L1329.3,960.0 L1329.7,956.0 L1330.2,952.0 L1330.6,948.0 L1331.1,944.0 L1331.6,940.0 L1332.1,936.0 L1332.6,932.0 L1333.0,928.0 L1333.6,924.0 L1334.1,920.0 L1334.6,916.0 L1335.1,912.0 L1335.6,908.1 L1336.2,904.1 L1336.7,900.1 L1337.3,896.1 L1337.9,892.1 L1338.5,888.2 L1339.1,884.2 L1339.7,880.2 L1340.3,876.3 L1340.9,872.3 L1341.5,868.3 L1342.2,864.4 L1342.8,860.4 L1343.5,856.5 L1344.2,852.5 L1344.9,848.6 L1345.5,844.6 L1346.2,840.7 L1346.9,836.7 L1347.7,832.7 L1348.4,828.8 L1349.1,824.8 L1349.8,820.9 L1350.6,816.9 L1351.3,813.0 L1352.1,809.0 L1352.8,805.1 L1353.6,801.1 L1354.4,797.2 L1355.2,793.2 L1356.0,789.3 L1356.8,785.3 L1357.6,781.3 L1358.4,777.4 L1359.3,773.4 L1360.1,769.4 L1361.0,765.5 L1361.8,761.5 L1362.7,757.5 L1363.6,753.6 L1364.6,749.6 L1365.6,745.7 L1366.6,741.7 L1367.7,737.8 L1368.8,734.0 L1370.0,730.1 L1371.2,726.3 L1372.5,722.5 L1373.9,718.8 L1375.4,715.1 L1376.9,711.4 L1378.5,707.8 L1380.2,704.2 L1382.0,700.6 L1383.8,697.1 L1385.6,693.6 L1387.6,690.1 L1389.5,686.6 L1391.6,683.2 L1393.6,679.8 L1395.8,676.4 L1397.9,673.1 L1400.1,669.8 L1402.4,666.5 L1404.7,663.2 L1407.0,659.9 L1409.3,656.6 L1411.7,653.4 L1414.1,650.2 L1416.6,646.9 L1419.0,643.7 L1421.5,640.5 L1423.9,637.3 L1426.4,634.1 L1428.9,630.9 L1431.4,627.7 L1434.0,624.6 L1436.5,621.4 L1439.0,618.2 L1441.5,615.0 L1444.0,611.8 L1446.5,608.6 L1448.9,605.4 L1451.4,602.2 L1453.9,599.0 L1456.3,595.7 L1458.7,592.5 L1461.1,589.2 L1463.4,585.9 L1465.7,582.6 L1468.0,579.3 L1470.3,576.0 L1472.5,572.6 L1474.7,569.3 L1476.8,565.9 L1478.9,562.5 L1481.0,559.0 L1483.0,555.6 L1485.0,552.1 L1487.0,548.7 L1489.0,545.2 L1490.9,541.6 L1492.7,538.1 L1494.6,534.6 L1496.4,531.0 L1498.2,527.4 L1499.9,523.8 L1501.6,520.2 L1503.3,516.6 L1505.0,512.9 L1506.6,509.3 L1508.2,505.6 L1509.8,501.9 L1511.3,498.2 L1512.8,494.5 L1514.3,490.7 L1515.7,487.0 L1517.1,483.2 L1518.5,479.5 L1519.9,475.7 L1521.3,471.9 L1522.6,468.1 L1523.9,464.3 L1525.2,460.4 L1526.4,456.6 L1527.7,452.8 L1528.9,448.9 L1530.1,445.0 L1531.3,441.2 L1532.5,437.3 L1533.7,433.4 L1534.9,429.6 L1536.1,425.7 L1537.3,421.8 L1538.5,417.9 L1539.7,414.1 L1541.0,410.2 L1542.2,406.4 L1543.5,402.5 L1544.9,398.7 L1546.2,394.9 L1547.6,391.1 L1549.1,387.4 L1550.6,383.6 L1552.2,379.9 L1553.8,376.3 L1555.5,372.6 L1557.3,369.0 L1559.1,365.5 L1561.0,362.0 L1563.0,358.5 L1565.0,355.0 L1567.1,351.6 L1569.2,348.2 L1571.4,344.9 L1573.6,341.5 L1576.0,338.3 L1578.3,335.1 L1580.7,331.9 L1583.2,328.7 L1585.8,325.6 L1588.3,322.6 L1591.0,319.6 L1593.7,316.6 L1596.4,313.7 L1599.2,310.8 L1602.0,307.9 L1604.9,305.1 L1607.9,302.4 L1610.9,299.7 L1613.9,297.1 L1617.0,294.5 L1620.1,291.9 L1623.3,289.4 L1626.5,287.0 L1629.8,284.6 L1633.1,282.2 L1636.4,279.9 L1639.7,277.6 L1643.1,275.4 L1646.5,273.2 L1650.0,271.0 L1653.5,268.8 L1656.9,266.8 L1660.5,264.7 L1664.0,262.7 L1667.5,260.7 L1671.1,258.8 L1674.7,256.9 L1678.3,255.2 L1682.0,253.4 L1685.7,251.8 L1689.4,250.2 L1693.1,248.7 L1696.8,247.2 L1700.6,245.8 L1704.4,244.5 L1708.2,243.3 L1712.0,242.2 L1715.8,241.1 L1719.7,240.1 L1723.6,239.1 L1727.5,238.2 L1731.4,237.4 L1735.3,236.6 L1739.2,235.9 L1743.2,235.3 L1747.1,234.7 L1751.1,234.1 L1755.1,233.6 L1759.1,233.2 L1763.1,232.8 L1767.1,232.5 L1771.1,232.2 L1775.1,232.0 L1779.1,231.8 L1783.1,231.6 L1787.2,231.5 L1791.2,231.5 L1795.2,231.4 L1799.3,231.4 L1803.3,231.5 L1807.3,231.6 L1811.4,231.7 L1815.4,231.8 L1819.4,232.0 L1823.5,232.2 L1827.5,232.4 L1831.5,232.7 L1835.5,233.0 L1839.5,233.3 L1843.5,233.7 L1847.5,234.1 L1851.5,234.5 L1855.5,234.9 L1859.5,235.4 L1863.5,235.9 L1867.5,236.4 L1871.4,236.9 L1875.4,237.5 L1879.4,238.1 L1883.4,238.7 L1887.3,239.4 L1891.3,240.0 L1895.2,240.7 L1899.2,241.5 L1903.1,242.2 L1907.1,243.0 L1911.0,243.8 L1914.9,244.6 L1918.9,245.4 L1922.8,246.3 L1926.7,247.2 L1930.6,248.1 L1934.5,249.0 L1938.4,249.9 L1942.4,250.9 L1946.3,251.9 L1950.1,252.9 L1954.0,253.9 L1957.9,255.0 L1961.8,256.1 L1965.7,257.1 L1969.6,258.2 L1973.4,259.4 L1977.3,260.5 L1981.1,261.7 L1985.0,262.8 L1988.8,264.0 L1992.7,265.2 L1996.5,266.5 L2000.4,267.7 L2004.2,269.0 L2008.0,270.2 L2011.8,271.5 L2015.6,272.8 L2019.4,274.2 L2023.3,275.5 L2027.1,276.8 L2030.8,278.2 L2034.6,279.6 L2038.4,280.9 L2042.2,282.3 L2046.0,283.8 L2049.7,285.2 L2053.5,286.6 L2057.3,288.1 L2061.0,289.5 L2064.8,291.0 L2068.5,292.5 L2072.2,293.9 L2076.0,295.4 L2079.7,296.9 L2083.4,298.5 L2087.1,300.0 L2090.8,301.5 L2094.5,303.1 L2098.2,304.6 L2101.9,306.2 L2105.6,307.7 L2109.3,309.3 L2113.0,310.9 L2116.6,312.4"/>
<path stroke="#ff8000" d="M1312.3,1126.3 L1312.8,1122.3 L1313.3,1118.3 L1313.8,1114.4 L1314.3,1110.4 L1314.8,1106.4 L1315.3,1102.4 L1315.8,1098.4 L1316.3,1094.4 L1316.8,1090.4 L1317.2,1086.4 L1317.7,1082.4 L1318.2,1078.5 L1318.7,1074.5 L1319.1,1070.5 L1319.6,1066.5 L1320.1,1062.5 L1320.5,1058.5 L1321.0,1054.5 L1321.5,1050.5 L1322.0,1046.6 L1322.4,1042.6 L1322.9,1038.6 L1323.4,1034.6 L1323.9,1030.6 L1324.3,1026.6 L1324.8,1022.6 L1325.3,1018.7 L1325.8,1014.7 L1326.3,1010.7 L1326.8,1006.7 L1327.3,1002.8 L1327.8,998.8 L1328.3,994.8 L1328.8,990.8 L1329.3,986.8 L1329.9,982.9 L1330.4,978.9 L1331.0,974.9 L1331.5,971.0 L1332.1,967.0 L1332.6,963.0 L1333.2,959.1 L1333.8,955.1 L1334.4,951.1 L1335.0,947.2 L1335.6,943.2 L1336.2,939.3 L1336.9,935.3 L1337.5,931.3 L1338.2,927.4 L1338.8,923.4 L1339.5,919.5 L1340.2,915.5 L1340.9,911.6 L1341.6,907.6 L1342.4,903.7 L1343.1,899.7 L1343.9,895.8 L1344.6,891.9 L1345.4,887.9 L1346.2,884.0 L1347.0,880.1 L1347.9,876.1 L1348.7,872.2 L1349.6,868.3 L1350.5,864.3 L1351.4,860.4 L1352.3,856.5 L1353.2,852.6 L1354.2,848.7 L1355.1,844.8 L1356.1,840.8 L1357.1,836.9 L1358.2,833.0 L1359.2,829.1 L1360.3,825.2 L1361.4,821.3 L1362.5,817.5 L1363.7,813.6 L1364.9,809.7 L1366.1,805.9 L1367.4,802.1 L1368.7,798.3 L1370.1,794.5 L1371.5,790.8 L1373.0,787.0 L1374.6,783.4 L1376.2,779.7 L1377.9,776.1 L1379.7,772.5 L1381.5,769.0 L1383.4,765.5 L1385.4,762.1 L1387.5,758.7 L1389.6,755.4 L1391.8,752.0 L1394.0,748.7 L1396.4,745.5 L1398.7,742.3 L1401.1,739.0 L1403.5,735.9 L1406.0,732.7 L1408.5,729.5 L1411.0,726.4 L1413.6,723.3 L1416.1,720.2 L1418.7,717.0 L1421.3,713.9 L1423.9,710.8 L1426.4,707.7 L1429.0,704.6 L1431.6,701.5 L1434.1,698.3 L1436.7,695.2 L1439.2,692.0 L1441.7,688.8 L1444.2,685.7 L1446.6,682.4 L1449.1,679.2 L1451.5,676.0 L1453.8,672.7 L1456.2,669.5 L1458.5,666.2 L1460.8,662.9 L1463.0,659.6 L1465.2,656.2 L1467.4,652.9 L1469.5,649.5 L1471.6,646.1 L1473.6,642.6 L1475.6,639.2 L1477.6,635.7 L1479.5,632.2 L1481.3,628.7 L1483.1,625.2 L1484.9,621.6 L1486.6,618.0 L1488.2,614.4 L1489.8,610.7 L1491.3,607.0 L1492.8,603.3 L1494.2,599.6 L1495.5,595.8 L1496.8,592.0 L1498.0,588.2 L1499.2,584.4 L1500.3,580.5 L1501.4,576.6 L1502.5,572.7 L1503.4,568.8 L1504.4,564.9 L1505.3,560.9 L1506.2,557.0 L1507.1,553.0 L1508.0,549.1 L1508.8,545.1 L1509.7,541.2 L1510.5,537.2 L1511.3,533.2 L1512.1,529.3 L1512.9,525.3 L1513.7,521.4 L1514.6,517.5 L1515.4,513.5 L1516.2,509.6 L1517.0,505.7 L1517.9,501.8 L1518.7,497.9 L1519.6,494.0 L1520.5,490.1 L1521.3,486.2 L1522.2,482.3 L1523.1,478.4 L1524.0,474.5 L1525.0,470.6 L1525.9,466.7 L1526.9,462.8 L1527.8,459.0 L1528.8,455.1 L1529.8,451.2 L1530.9,447.3 L1531.9,443.5 L1533.0,439.6 L1534.1,435.7 L1535.2,431.9 L1536.4,428.0 L1537.6,424.1 L1538.8,420.3 L1540.0,416.4 L1541.3,412.5 L1542.6,408.7 L1543.9,404.9 L1545.3,401.1 L1546.7,397.3 L1548.2,393.5 L1549.7,389.7 L1551.2,386.0 L1552.8,382.3 L1554.5,378.6 L1556.2,375.0 L1557.9,371.4 L1559.8,367.8 L1561.6,364.3 L1563.6,360.8 L1565.6,357.3 L1567.6,353.9 L1569.8,350.6 L1572.0,347.3 L1574.2,344.0 L1576.6,340.8 L1579.0,337.7 L1581.5,334.6 L1584.1,331.6 L1586.7,328.7 L1589.5,325.8 L1592.3,323.0 L1595.2,320.2 L1598.2,317.6 L1601.3,315.0 L1604.4,312.4 L1607.6,310.0 L1610.9,307.6 L1614.2,305.3 L1617.6,303.0 L1621.0,300.8 L1624.5,298.7 L1628.0,296.7 L1631.6,294.7 L1635.2,292.8 L1638.9,291.0 L1642.6,289.2 L1646.3,287.5 L1650.0,285.9 L1653.7,284.3 L1657.5,282.8 L1661.3,281.4 L1665.1,280.0 L1668.9,278.7 L1672.7,277.5 L1676.6,276.4 L1680.4,275.3 L1684.3,274.3 L1688.2,273.4 L1692.1,272.6 L1696.0,271.8 L1699.9,271.1 L1703.9,270.5 L1707.8,269.9 L1711.7,269.4 L1715.7,269.1 L1719.7,268.7 L1723.6,268.5 L1727.6,268.3 L1731.6,268.2 L1735.6,268.2 L1739.5,268.2 L1743.5,268.3 L1747.5,268.5 L1751.5,268.7 L1755.5,268.9 L1759.5,269.2 L1763.5,269.6 L1767.5,270.0 L1771.5,270.5 L1775.5,270.9 L1779.5,271.5 L1783.5,272.0 L1787.5,272.6 L1791.5,273.3 L1795.5,273.9 L1799.4,274.6 L1803.4,275.3 L1807.4,276.1 L1811.4,276.8 L1815.3,277.6 L1819.3,278.3 L1823.3,279.1 L1827.2,279.9 L1831.2,280.8 L1835.1,281.6 L1839.0,282.4 L1843.0,283.3 L1846.9,284.2 L1850.8,285.1 L1854.7,286.0 L1858.6,286.9 L1862.5,287.9 L1866.4,288.8 L1870.3,289.8 L1874.2,290.8 L1878.0,291.8 L1881.9,292.9 L1885.7,293.9 L1889.6,295.0 L1893.4,296.1 L1897.3,297.2 L1901.1,298.4 L1904.9,299.5 L1908.8,300.7 L1912.6,301.9 L1916.4,303.2 L1920.2,304.4 L1924.0,305.7 L1927.7,307.0 L1931.5,308.3 L1935.3,309.6 L1939.1,311.0 L1942.8,312.4 L1946.6,313.8 L1950.3,315.3 L1954.0,316.7 L1957.8,318.2 L1961.5,319.7 L1965.2,321.2 L1968.9,322.8 L1972.6,324.4 L1976.3,325.9 L1980.0,327.5 L1983.7,329.1 L1987.4,330.8 L1991.0,332.4 L1994.7,334.1 L1998.4,335.7 L2002.0,337.4 L2005.7,339.1 L2009.4,340.8 L2013.0,342.5 L2016.7,344.2 L2020.3,345.9 L2023.9,347.6 L2027.6,349.4 L2031.2,351.1 L2034.9,352.8 L2038.5,354.6 L2042.1,356.3 L2045.8,358.0 L2049.4,359.8 L2053.0,361.5 L2056.6,363.2 L2060.3,364.9 L2063.9,366.7 L2067.5,368.4 L2071.1,370.1 L2074.8,371.8 L2078.4,373.5 L2082.0,375.2 L2085.6,376.9 L2089.2,378.5 L2092.9,380.2 L2096.5,381.8"/>
<path stroke="#ff00ff" d="M1309.4,1181.2 L1309.9,1177.2 L1310.3,1173.2 L1310.7,1169.2 L1311.1,1165.2 L1311.5,1161.2 L1311.9,1157.2 L1312.4,1153.2 L1312.8,1149.2 L1313.2,1145.2 L1313.7,1141.2 L1314.1,1137.2 L1314.6,1133.3 L1315.1,1129.3 L1315.5,1125.3 L1316.0,1121.3 L1316.5,1117.3 L1317.0,1113.4 L1317.5,1109.4 L1318.0,1105.4 L1318.5,1101.4 L1319.0,1097.5 L1319.5,1093.5 L1320.0,1089.5 L1320.6,1085.5 L1321.1,1081.6 L1321.7,1077.6 L1322.3,1073.7 L1322.8,1069.7 L1323.4,1065.7 L1324.0,1061.8 L1324.6,1057.8 L1325.2,1053.9 L1325.8,1049.9 L1326.4,1045.9 L1327.1,1042.0 L1327.7,1038.0 L1328.4,1034.1 L1329.0,1030.1 L1329.7,1026.2 L1330.4,1022.2 L1331.1,1018.3 L1331.8,1014.4 L1332.5,1010.4 L1333.3,1006.5 L1334.0,1002.5 L1334.8,998.6 L1335.5,994.6 L1336.3,990.7 L1337.1,986.8 L1337.9,982.8 L1338.7,978.9 L1339.5,975.0 L1340.4,971.0 L1341.2,967.1 L1342.1,963.2 L1342.9,959.2 L1343.8,955.3 L1344.7,951.4 L1345.7,947.4 L1346.6,943.5 L1347.5,939.6 L1348.5,935.6 L1349.5,931.7 L1350.5,927.8 L1351.5,923.9 L1352.5,920.0 L1353.6,916.1 L1354.7,912.2 L1355.8,908.3 L1357.0,904.4 L1358.1,900.6 L1359.4,896.8 L1360.6,892.9 L1362.0,889.1 L1363.3,885.4 L1364.7,881.6 L1366.2,877.9 L1367.7,874.2 L1369.2,870.5 L1370.8,866.9 L1372.5,863.3 L1374.2,859.7 L1376.0,856.1 L1377.9,852.6 L1379.8,849.2 L1381.8,845.7 L1383.9,842.3 L1386.0,839.0 L1388.2,835.7 L1390.5,832.4 L1392.9,829.2 L1395.3,826.0 L1397.7,822.8 L1400.2,819.6 L1402.7,816.5 L1405.3,813.4 L1407.9,810.3 L1410.5,807.2 L1413.2,804.1 L1415.8,801.1 L1418.5,798.0 L1421.1,794.9 L1423.8,791.9 L1426.4,788.8 L1429.1,785.7 L1431.7,782.6 L1434.2,779.5 L1436.8,776.4 L1439.3,773.2 L1441.7,770.0 L1444.1,766.8 L1446.5,763.6 L1448.8,760.3 L1451.1,757.0 L1453.3,753.6 L1455.4,750.3 L1457.5,746.9 L1459.6,743.5 L1461.6,740.1 L1463.6,736.6 L1465.5,733.1 L1467.4,729.6 L1469.2,726.1 L1471.0,722.5 L1472.7,718.9 L1474.4,715.3 L1476.0,711.7 L1477.6,708.0 L1479.1,704.4 L1480.6,700.7 L1482.1,697.0 L1483.5,693.2 L1484.9,689.5 L1486.2,685.7 L1487.5,682.0 L1488.7,678.2 L1489.9,674.3 L1491.1,670.5 L1492.2,666.6 L1493.3,662.8 L1494.3,658.9 L1495.3,655.0 L1496.2,651.1 L1497.1,647.2 L1498.0,643.2 L1498.8,639.3 L1499.6,635.3 L1500.4,631.4 L1501.1,627.4 L1501.9,623.4 L1502.6,619.5 L1503.2,615.5 L1503.9,611.5 L1504.6,607.5 L1505.2,603.5 L1505.9,599.5 L1506.5,595.5 L1507.1,591.5 L1507.8,587.6 L1508.4,583.6 L1509.1,579.6 L1509.8,575.7 L1510.5,571.7 L1511.1,567.8 L1511.9,563.8 L1512.6,559.9 L1513.3,556.0 L1514.1,552.1 L1514.8,548.2 L1515.6,544.3 L1516.4,540.3 L1517.2,536.4 L1518.0,532.5 L1518.8,528.6 L1519.6,524.7 L1520.5,520.8 L1521.3,516.9 L1522.2,513.0 L1523.0,509.1 L1523.9,505.2 L1524.8,501.3 L1525.7,497.4 L1526.6,493.5 L1527.6,489.6 L1528.5,485.7 L1529.5,481.7 L1530.4,477.8 L1531.4,473.9 L1532.4,469.9 L1533.4,466.0 L1534.4,462.1 L1535.5,458.1 L1536.6,454.2 L1537.7,450.3 L1538.8,446.4 L1540.0,442.5 L1541.2,438.6 L1542.4,434.7 L1543.7,430.9 L1545.0,427.1 L1546.4,423.3 L1547.8,419.5 L1549.3,415.8 L1550.9,412.1 L1552.5,408.4 L1554.1,404.7 L1555.9,401.1 L1557.6,397.6 L1559.5,394.0 L1561.4,390.6 L1563.4,387.1 L1565.5,383.7 L1567.7,380.4 L1569.9,377.1 L1572.3,373.9 L1574.7,370.7 L1577.2,367.6 L1579.7,364.6 L1582.4,361.6 L1585.1,358.7 L1587.9,355.8 L1590.7,353.0 L1593.7,350.3 L1596.7,347.7 L1599.8,345.1 L1602.9,342.6 L1606.1,340.2 L1609.3,337.9 L1612.7,335.7 L1616.1,333.5 L1619.5,331.5 L1623.0,329.5 L1626.6,327.6 L1630.2,325.8 L1633.8,324.1 L1637.5,322.5 L1641.2,321.0 L1645.0,319.5 L1648.8,318.2 L1652.6,316.9 L1656.5,315.7 L1660.4,314.7 L1664.3,313.7 L1668.2,312.7 L1672.2,311.9 L1676.1,311.1 L1680.1,310.5 L1684.0,309.9 L1688.0,309.3 L1692.0,308.9 L1696.0,308.5 L1700.0,308.2 L1704.0,308.0 L1708.0,307.8 L1712.0,307.7 L1716.0,307.6 L1720.0,307.6 L1723.9,307.7 L1727.9,307.8 L1731.9,308.0 L1735.9,308.2 L1739.9,308.5 L1743.9,308.8 L1747.9,309.1 L1751.9,309.5 L1755.9,309.9 L1759.9,310.4 L1763.9,310.9 L1767.9,311.4 L1771.8,312.0 L1775.8,312.6 L1779.8,313.2 L1783.8,313.8 L1787.7,314.5 L1791.7,315.1 L1795.7,315.8 L1799.6,316.5 L1803.6,317.2 L1807.5,317.9 L1811.5,318.7 L1815.4,319.4 L1819.4,320.2 L1823.3,321.0 L1827.2,321.8 L1831.2,322.6 L1835.1,323.4 L1839.0,324.2 L1842.9,325.1 L1846.8,326.0 L1850.8,326.8 L1854.7,327.7 L1858.6,328.6 L1862.5,329.6 L1866.4,330.5 L1870.3,331.4 L1874.2,332.4 L1878.1,333.4 L1881.9,334.4 L1885.8,335.3 L1889.7,336.4 L1893.6,337.4 L1897.4,338.4 L1901.3,339.5 L1905.2,340.5 L1909.0,341.6 L1912.9,342.7 L1916.8,343.8 L1920.6,344.9 L1924.5,346.0 L1928.3,347.1 L1932.2,348.2 L1936.0,349.4 L1939.8,350.5 L1943.7,351.7 L1947.5,352.9 L1951.3,354.1 L1955.2,355.3 L1959.0,356.5 L1962.8,357.7 L1966.6,358.9 L1970.4,360.2 L1974.2,361.4 L1978.0,362.7 L1981.8,364.0 L1985.6,365.3 L1989.4,366.5 L1993.2,367.8 L1997.0,369.2 L2000.8,370.5 L2004.6,371.8 L2008.4,373.1 L2012.2,374.5 L2016.0,375.8 L2019.7,377.2 L2023.5,378.6 L2027.3,379.9 L2031.0,381.3 L2034.8,382.7 L2038.6,384.1 L2042.3,385.5 L2046.1,386.9 L2049.8,388.4 L2053.6,389.8 L2057.3,391.2 L2061.1,392.7 L2064.8,394.1 L2068.6,395.6 L2072.3,397.1 L2076.0,398.5 L2079.8,400.0 L2083.5,401.5 L2087.2,403.0"/>
<path stroke="#ff0000" d="M1306.1,1280.3 L1306.8,1276.4 L1307.4,1272.5 L1308.0,1268.6 L1308.6,1264.7 L1309.3,1260.7 L1309.9,1256.8 L1310.5,1252.9 L1311.1,1248.9 L1311.7,1245.0 L1312.3,1241.0 L1312.9,1237.1 L1313.5,1233.1 L1314.0,1229.1 L1314.6,1225.2 L1315.2,1221.2 L1315.8,1217.2 L1316.4,1213.2 L1317.0,1209.2 L1317.6,1205.2 L1318.2,1201.3 L1318.8,1197.3 L1319.4,1193.3 L1320.0,1189.3 L1320.6,1185.3 L1321.3,1181.3 L1321.9,1177.3 L1322.5,1173.3 L1323.2,1169.3 L1323.8,1165.3 L1324.5,1161.4 L1325.2,1157.4 L1325.9,1153.4 L1326.6,1149.4 L1327.3,1145.4 L1328.0,1141.5 L1328.8,1137.5 L1329.5,1133.5 L1330.3,1129.5 L1331.1,1125.6 L1331.9,1121.6 L1332.7,1117.7 L1333.5,1113.7 L1334.4,1109.8 L1335.3,1105.9 L1336.1,1101.9 L1337.1,1098.0 L1338.0,1094.1 L1338.9,1090.2 L1339.9,1086.3 L1340.9,1082.4 L1342.0,1078.5 L1343.0,1074.6 L1344.1,1070.7 L1345.2,1066.9 L1346.3,1063.0 L1347.5,1059.2 L1348.6,1055.4 L1349.8,1051.5 L1351.1,1047.7 L1352.3,1043.9 L1353.6,1040.1 L1355.0,1036.4 L1356.3,1032.6 L1357.7,1028.8 L1359.1,1025.1 L1360.6,1021.4 L1362.1,1017.6 L1363.6,1013.9 L1365.2,1010.3 L1366.8,1006.6 L1368.4,1002.9 L1370.1,999.3 L1371.8,995.6 L1373.5,992.0 L1375.3,988.4 L1377.1,984.9 L1378.9,981.3 L1380.8,977.7 L1382.8,974.2 L1384.7,970.7 L1386.7,967.2 L1388.8,963.8 L1390.8,960.3 L1392.9,956.9 L1395.1,953.5 L1397.3,950.1 L1399.5,946.8 L1401.8,943.5 L1404.1,940.1 L1406.4,936.9 L1408.8,933.6 L1411.2,930.4 L1413.6,927.2 L1416.1,923.9 L1418.5,920.7 L1421.0,917.5 L1423.4,914.3 L1425.9,911.2 L1428.3,908.0 L1430.8,904.7 L1433.2,901.5 L1435.6,898.3 L1437.9,895.0 L1440.3,891.8 L1442.5,888.5 L1444.8,885.1 L1447.0,881.8 L1449.1,878.4 L1451.2,875.0 L1453.3,871.6 L1455.2,868.1 L1457.2,864.6 L1459.1,861.1 L1460.9,857.5 L1462.7,854.0 L1464.4,850.4 L1466.1,846.7 L1467.7,843.1 L1469.3,839.4 L1470.7,835.7 L1472.2,832.0 L1473.6,828.2 L1474.9,824.5 L1476.1,820.7 L1477.4,816.8 L1478.5,813.0 L1479.7,809.1 L1480.8,805.3 L1481.8,801.4 L1482.8,797.5 L1483.8,793.6 L1484.7,789.6 L1485.6,785.7 L1486.5,781.7 L1487.4,777.8 L1488.2,773.8 L1489.0,769.8 L1489.8,765.9 L1490.5,761.9 L1491.3,757.9 L1492.0,753.9 L1492.8,749.9 L1493.5,745.9 L1494.2,741.9 L1494.9,738.0 L1495.6,734.0 L1496.3,730.0 L1497.0,726.1 L1497.7,722.1 L1498.4,718.2 L1499.1,714.2 L1499.9,710.3 L1500.6,706.4 L1501.4,702.5 L1502.1,698.5 L1502.9,694.6 L1503.6,690.7 L1504.4,686.8 L1505.1,682.9 L1505.9,679.0 L1506.6,675.1 L1507.4,671.2 L1508.1,667.3 L1508.9,663.4 L1509.6,659.5 L1510.4,655.6 L1511.1,651.7 L1511.8,647.7 L1512.6,643.8 L1513.3,639.8 L1514.0,635.9 L1514.7,631.9 L1515.4,627.9 L1516.1,623.9 L1516.9,619.9 L1517.6,616.0 L1518.3,612.0 L1519.0,608.0 L1519.8,604.0 L1520.5,600.0 L1521.3,596.0 L1522.1,592.0 L1522.8,588.0 L1523.6,584.0 L1524.4,580.0 L1525.3,576.1 L1526.1,572.1 L1527.0,568.1 L1527.9,564.1 L1528.8,560.2 L1529.7,556.2 L1530.7,552.3 L1531.6,548.4 L1532.6,544.4 L1533.7,540.5 L1534.7,536.6 L1535.8,532.8 L1536.9,528.9 L1538.1,525.0 L1539.3,521.2 L1540.5,517.3 L1541.8,513.5 L1543.1,509.7 L1544.4,506.0 L1545.8,502.2 L1547.3,498.5 L1548.7,494.7 L1550.2,491.0 L1551.8,487.4 L1553.4,483.7 L1555.1,480.1 L1556.8,476.5 L1558.5,472.9 L1560.4,469.3 L1562.2,465.8 L1564.1,462.3 L1566.1,458.8 L1568.2,455.4 L1570.3,451.9 L1572.4,448.5 L1574.6,445.2 L1576.9,441.9 L1579.3,438.6 L1581.7,435.3 L1584.1,432.2 L1586.7,429.0 L1589.3,426.0 L1591.9,423.0 L1594.7,420.0 L1597.5,417.2 L1600.4,414.4 L1603.3,411.7 L1606.4,409.1 L1609.5,406.6 L1612.6,404.2 L1615.9,401.8 L1619.2,399.6 L1622.6,397.5 L1626.0,395.5 L1629.6,393.7 L1633.2,391.9 L1636.8,390.2 L1640.5,388.7 L1644.3,387.2 L1648.1,385.8 L1651.9,384.5 L1655.7,383.3 L1659.6,382.3 L1663.5,381.2 L1667.4,380.3 L1671.3,379.5 L1675.3,378.7 L1679.2,378.0 L1683.1,377.4 L1687.1,376.9 L1691.1,376.4 L1695.0,376.0 L1699.0,375.7 L1703.0,375.4 L1707.0,375.2 L1711.0,375.1 L1715.0,375.0 L1719.0,375.0 L1723.0,375.0 L1727.0,375.0 L1731.1,375.1 L1735.1,375.3 L1739.1,375.5 L1743.2,375.7 L1747.2,376.0 L1751.2,376.2 L1755.3,376.6 L1759.3,376.9 L1763.3,377.3 L1767.4,377.7 L1771.4,378.1 L1775.4,378.6 L1779.5,379.0 L1783.5,379.5 L1787.5,380.0 L1791.5,380.4 L1795.6,380.9 L1799.6,381.4 L1803.6,381.9 L1807.6,382.5 L1811.6,383.0 L1815.6,383.5 L1819.6,384.0 L1823.6,384.6 L1827.6,385.1 L1831.6,385.7 L1835.6,386.3 L1839.5,386.8 L1843.5,387.4 L1847.5,388.0 L1851.5,388.6 L1855.4,389.2 L1859.4,389.8 L1863.4,390.4 L1867.3,391.0 L1871.3,391.7 L1875.2,392.3 L1879.2,393.0 L1883.2,393.6 L1887.1,394.3 L1891.1,395.0 L1895.0,395.7 L1898.9,396.3 L1902.9,397.1 L1906.8,397.8 L1910.8,398.5 L1914.7,399.2 L1918.6,400.0 L1922.5,400.7 L1926.5,401.5 L1930.4,402.2 L1934.3,403.0 L1938.2,403.8 L1942.2,404.6 L1946.1,405.4 L1950.0,406.2 L1953.9,407.1 L1957.8,407.9 L1961.8,408.8 L1965.7,409.6 L1969.6,410.5 L1973.5,411.4 L1977.4,412.3 L1981.3,413.2 L1985.2,414.1 L1989.1,415.0 L1993.0,415.9 L1996.9,416.9 L2000.8,417.9 L2004.7,418.8 L2008.6,419.8 L2012.5,420.8 L2016.4,421.8 L2020.3,422.8 L2024.2,423.9 L2028.1,424.9 L2032.0,426.0 L2035.9,427.0 L2039.8,428.1 L2043.7,429.2 L2047.6,430.3 L2051.5,431.4 L2055.4,432.6 L2059.3,433.7 L2063.1,434.9 L2067.0,436.0 L2070.9,437.2 L2074.8,438.4"/>
</g>
<path d="M271.5,1278.5H296.4M1208.1,1278.5H1259.9M2171.1,1278.5H2196.0M271.5,728.8H296.4M1208.1,728.8H1259.9M2171.1,728.8H2196.0M271.5,179.0H296.4M1208.1,179.0H1259.9M2171.1,179.0H2196.0M271.5,1331.8H283.4M1221.1,1331.8H1246.9M2184.1,1331.8H2196.0M271.5,1303.7H283.4M1221.1,1303.7H1246.9M2184.1,1303.7H2196.0M271.5,1113.0H283.4M1221.1,1113.0H1246.9M2184.1,1113.0H2196.0M271.5,1016.2H283.4M1221.1,1016.2H1246.9M2184.1,1016.2H2196.0M271.5,947.5H283.4M1221.1,947.5H1246.9M2184.1,947.5H2196.0M271.5,894.2H283.4M1221.1,894.2H1246.9M2184.1,894.2H2196.0M271.5,850.7H283.4M1221.1,850.7H1246.9M2184.1,850.7H2196.0M271.5,813.9H283.4M1221.1,813.9H1246.9M2184.1,813.9H2196.0M271.5,782.0H283.4M1221.1,782.0H1246.9M2184.1,782.0H2196.0M271.5,753.9H283.4M1221.1,753.9H1246.9M2184.1,753.9H2196.0M271.5,563.3H283.4M1221.1,563.3H1246.9M2184.1,563.3H2196.0M271.5,466.5H283.4M1221.1,466.5H1246.9M2184.1,466.5H2196.0M271.5,397.8H283.4M1221.1,397.8H1246.9M2184.1,397.8H2196.0M271.5,344.5H283.4M1221.1,344.5H1246.9M2184.1,344.5H2196.0M271.5,301.0H283.4M1221.1,301.0H1246.9M2184.1,301.0H2196.0M271.5,264.2H283.4M1221.1,264.2H1246.9M2184.1,264.2H2196.0M271.5,232.3H283.4M1221.1,232.3H1246.9M2184.1,232.3H2196.0M271.5,204.2H283.4M1221.1,204.2H1246.9M2184.1,204.2H2196.0M391.0,83.5V108.4M391.0,1363.0V1338.1M571.7,83.5V108.4M571.7,1363.0V1338.1M752.4,83.5V108.4M752.4,1363.0V1338.1M933.1,83.5V108.4M933.1,1363.0V1338.1M1113.8,83.5V108.4M1113.8,1363.0V1338.1M300.6,83.5V95.4M300.6,1363.0V1351.1M481.4,83.5V95.4M481.4,1363.0V1351.1M662.0,83.5V95.4M662.0,1363.0V1351.1M842.8,83.5V95.4M842.8,1363.0V1351.1M1023.5,83.5V95.4M1023.5,1363.0V1351.1M1204.2,83.5V95.4M1204.2,1363.0V1351.1M1354.0,83.5V108.4M1354.0,1363.0V1338.1M1534.8,83.5V108.4M1534.8,1363.0V1338.1M1715.5,83.5V108.4M1715.5,1363.0V1338.1M1896.2,83.5V108.4M1896.2,1363.0V1338.1M2077.0,83.5V108.4M2077.0,1363.0V1338.1M1263.6,83.5V95.4M1263.6,1363.0V1351.1M1444.4,83.5V95.4M1444.4,1363.0V1351.1M1625.1,83.5V95.4M1625.1,1363.0V1351.1M1805.9,83.5V95.4M1805.9,1363.0V1351.1M1986.6,83.5V95.4M1986.6,1363.0V1351.1M2167.4,83.5V95.4M2167.4,1363.0V1351.1" stroke="#000" stroke-width="7.5" stroke-linecap="round" fill="none"/>
<g stroke="#000" fill="none" stroke-linecap="butt">
<line x1="270.5" y1="79.0" x2="270.5" y2="1368.0" stroke-width="7"/>
<line x1="1234.0" y1="82.5" x2="1234.0" y2="1364.0" stroke-width="8"/>
<line x1="2197.0" y1="79.0" x2="2197.0" y2="1368.0" stroke-width="8"/>
<line x1="270.5" y1="82.5" x2="2197.0" y2="82.5" stroke-width="7"/>
<line x1="270.5" y1="1364.0" x2="2197.0" y2="1364.0" stroke-width="8"/>
</g>
<g transform="translate(133.19,197.00) scale(1.0,1.04)"><text x="0" y="0" font-size="69.5" letter-spacing="-2.65">100</text><g fill="#fff"><rect x="3.13" y="-11.12" width="13.09" height="12.51"/><rect x="25.76" y="-11.12" width="12.33" height="12.51"/></g></g>
<g transform="translate(2225.62,197.00) scale(1.0,1.04)"><text x="0" y="0" font-size="69.5" letter-spacing="-2.65">100</text><g fill="#fff"><rect x="3.13" y="-11.12" width="13.09" height="12.51"/><rect x="25.76" y="-11.12" width="12.33" height="12.51"/></g></g>
<g transform="translate(169.20,746.75) scale(1.0,1.04)"><text x="0" y="0" font-size="69.5" letter-spacing="-2.65">10</text><g fill="#fff"><rect x="3.13" y="-11.12" width="13.09" height="12.51"/><rect x="25.76" y="-11.12" width="12.33" height="12.51"/></g></g>
<g transform="translate(2225.62,746.75) scale(1.0,1.04)"><text x="0" y="0" font-size="69.5" letter-spacing="-2.65">10</text><g fill="#fff"><rect x="3.13" y="-11.12" width="13.09" height="12.51"/><rect x="25.76" y="-11.12" width="12.33" height="12.51"/></g></g>
<g transform="translate(207.24,1296.50) scale(1.0,1.04)"><text x="0" y="0" font-size="69.5" letter-spacing="-2.65">1</text><g fill="#fff"><rect x="3.13" y="-11.12" width="13.09" height="12.51"/><rect x="25.76" y="-11.12" width="12.33" height="12.51"/></g></g>
<g transform="translate(2225.62,1296.50) scale(1.0,1.04)"><text x="0" y="0" font-size="69.5" letter-spacing="-2.65">1</text><g fill="#fff"><rect x="3.13" y="-11.12" width="13.09" height="12.51"/><rect x="25.76" y="-11.12" width="12.33" height="12.51"/></g></g>
<g transform="translate(335.93,1443.00) scale(1.0,1.04)"><text x="0" y="0" font-size="69.5" letter-spacing="-2.65">225</text></g>
<g transform="translate(517.09,1443.00) scale(1.0,1.04)"><text x="0" y="0" font-size="69.5" letter-spacing="-2.65">240</text></g>
<g transform="translate(697.33,1443.00) scale(1.0,1.04)"><text x="0" y="0" font-size="69.5" letter-spacing="-2.65">255</text></g>
<g transform="translate(878.49,1443.00) scale(1.0,1.04)"><text x="0" y="0" font-size="69.5" letter-spacing="-2.65">270</text></g>
<g transform="translate(1058.73,1443.00) scale(1.0,1.04)"><text x="0" y="0" font-size="69.5" letter-spacing="-2.65">285</text></g>
<g transform="translate(1298.93,1443.00) scale(1.0,1.04)"><text x="0" y="0" font-size="69.5" letter-spacing="-2.65">225</text></g>
<g transform="translate(1480.14,1443.00) scale(1.0,1.04)"><text x="0" y="0" font-size="69.5" letter-spacing="-2.65">240</text></g>
<g transform="translate(1660.43,1443.00) scale(1.0,1.04)"><text x="0" y="0" font-size="69.5" letter-spacing="-2.65">255</text></g>
<g transform="translate(1841.64,1443.00) scale(1.0,1.04)"><text x="0" y="0" font-size="69.5" letter-spacing="-2.65">270</text></g>
<g transform="translate(2021.93,1443.00) scale(1.0,1.04)"><text x="0" y="0" font-size="69.5" letter-spacing="-2.65">285</text></g>
<g transform="translate(129.00,1159.77) rotate(-90)"><text x="0" y="0" font-size="86.2" letter-spacing="0">Electron leakage (%)</text></g>
<g transform="translate(2410.00,1186.77) rotate(-90)"><text x="0" y="0" font-size="86.2" letter-spacing="0">Injection efficiency (%)</text></g>
<g transform="translate(757.23,1557.30)"><text x="0" y="0" font-size="86.2" letter-spacing="-1.39">Emission wavelength (nm)</text></g>
<g transform="translate(1083.89,221.00) scale(0.93,1.0)"><text x="0" y="0" font-size="103" letter-spacing="0.0">a</text></g>
<g transform="translate(1332.01,222.00)"><text x="0" y="0" font-size="103" letter-spacing="0.0">b</text></g>
<g transform="translate(1605.00,863.00) scale(1.0,1.04)"><text x="0" y="0" font-size="58.7" letter-spacing="-2.46">1.5 nm AlGaN SQW:</text><g fill="#fff"><rect x="2.64" y="-9.39" width="11.06" height="10.57"/><rect x="21.75" y="-9.39" width="10.41" height="10.57"/></g></g>
<line x1="1635.5" y1="925.4" x2="1761.5" y2="925.4" stroke="#0000ff" stroke-width="9" stroke-linecap="round"/>
<g transform="translate(1792.30,944.70) scale(1.0,1.04)"><text x="0" y="0" font-size="58.7" letter-spacing="-2.2">0.02 kA/cm<tspan font-size="34" dy="-30" dx="-1.3">2</tspan></text></g>
<line x1="1635.5" y1="1007.7" x2="1761.5" y2="1007.7" stroke="#008000" stroke-width="9" stroke-linecap="round"/>
<g transform="translate(1792.30,1027.00) scale(1.0,1.04)"><text x="0" y="0" font-size="58.7" letter-spacing="-2.2">0.1 kA/cm<tspan font-size="34" dy="-30" dx="-1.3">2</tspan></text><g fill="#fff"><rect x="47.20" y="-9.39" width="11.06" height="10.57"/><rect x="66.31" y="-9.39" width="10.41" height="10.57"/></g></g>
<line x1="1635.5" y1="1090.0" x2="1761.5" y2="1090.0" stroke="#ff8000" stroke-width="9" stroke-linecap="round"/>
<g transform="translate(1792.30,1109.30) scale(1.0,1.04)"><text x="0" y="0" font-size="58.7" letter-spacing="-2.2">1.0 kA/cm<tspan font-size="34" dy="-30" dx="-1.3">2</tspan></text><g fill="#fff"><rect x="2.64" y="-9.39" width="11.06" height="10.57"/><rect x="21.75" y="-9.39" width="10.41" height="10.57"/></g></g>
<line x1="1635.5" y1="1172.3" x2="1761.5" y2="1172.3" stroke="#ff00ff" stroke-width="9" stroke-linecap="round"/>
<g transform="translate(1792.30,1191.60) scale(1.0,1.04)"><text x="0" y="0" font-size="58.7" letter-spacing="-2.2">3.0 kA/cm<tspan font-size="34" dy="-30" dx="-1.3">2</tspan></text></g>
<line x1="1635.5" y1="1254.6" x2="1761.5" y2="1254.6" stroke="#ff0000" stroke-width="9" stroke-linecap="round"/>
<g transform="translate(1792.30,1273.90) scale(1.0,1.04)"><text x="0" y="0" font-size="58.7" letter-spacing="-2.2">10.0 kA/cm<tspan font-size="34" dy="-30" dx="-1.3">2</tspan></text><g fill="#fff"><rect x="2.64" y="-9.39" width="11.06" height="10.57"/><rect x="21.75" y="-9.39" width="10.41" height="10.57"/></g></g>
</svg></body></html>
